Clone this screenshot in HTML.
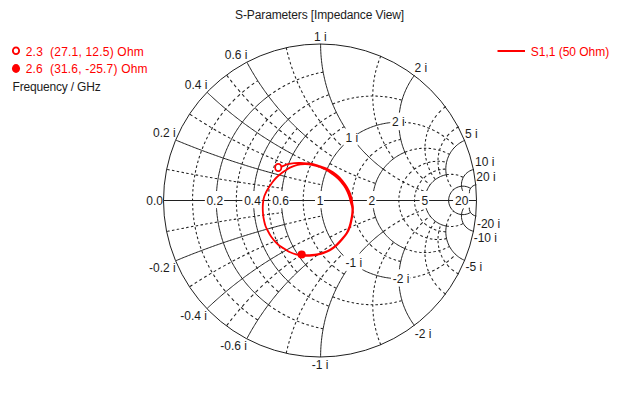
<!DOCTYPE html>
<html><head><meta charset="utf-8"><title>S-Parameters [Impedance View]</title>
<style>
html,body{margin:0;padding:0;background:#fff;}
body{width:640px;height:400px;overflow:hidden;}
svg{display:block;}
text{font-family:"Liberation Sans",sans-serif;font-size:12px;}
</style></head><body>
<svg width="640" height="400" viewBox="0 0 640 400">
<rect width="640" height="400" fill="#fff"/>
<g fill="none" stroke="#202020" stroke-width="1">
<path d="M268.43 304.73 L267.23 303.82 L266.04 302.89 L264.85 301.95 L263.68 300.99 L262.52 300.03 L261.37 299.04 L260.23 298.05 L259.11 297.04 L257.99 296.02 L256.89 294.98 L255.80 293.94 L254.72 292.88 L253.66 291.80 L252.60 290.72 L251.56 289.62 L250.54 288.52 L249.52 287.39 L248.52 286.26 L247.53 285.12 L246.56 283.96 L245.59 282.80 L244.65 281.62 L243.71 280.43 L242.79 279.23 L241.88 278.02 L240.99 276.80 L240.11 275.57 L239.25 274.33 L238.40 273.08 L237.56 271.82 L236.74 270.55 L235.94 269.27 L235.15 267.99 L234.37 266.69 L233.61 265.38 L232.86 264.07 L232.13 262.74 L231.42 261.41 L230.72 260.07 L230.04 258.72 L229.37 257.37 L228.71 256.00 L228.08 254.63 L227.46 253.25 L226.85 251.87 L226.26 250.48 L225.69 249.08 L225.14 247.67 L224.60 246.26 L224.07 244.84 L223.57 243.42 L223.08 241.99 L222.60 240.55 L222.14 239.11 L221.70 237.67 L221.28 236.21 L220.87 234.76 L220.48 233.30 L220.11 231.83 L219.76 230.36 L219.42 228.89 L219.09 227.41 L218.79 225.93 L218.50 224.45 L218.23 222.96 L217.98 221.47 L217.74 219.98 L217.53 218.48 L217.33 216.98 L217.14 215.48 L216.98 213.98 L216.83 212.48 L216.70 210.97 L216.58 209.46 L216.49 207.95 L216.41 206.44 L216.35 204.93 L216.30 203.42 L216.28 201.91 L216.27 200.40 L216.28 198.89 L216.30 197.38 L216.35 195.87 L216.41 194.36 L216.49 192.85 L216.58 191.34 L216.70 189.83 L216.83 188.32 L216.98 186.82 L217.14 185.32 L217.33 183.82 L217.53 182.32 L217.74 180.82 L217.98 179.33 L218.23 177.84 L218.50 176.35 L218.79 174.87 L219.09 173.39 L219.42 171.91 L219.76 170.44 L220.11 168.97 L220.48 167.50 L220.87 166.04 L221.28 164.59 L221.70 163.13 L222.14 161.69 L222.60 160.25 L223.08 158.81 L223.57 157.38 L224.07 155.96 L224.60 154.54 L225.14 153.13 L225.69 151.72 L226.26 150.32 L226.85 148.93 L227.46 147.55 L228.08 146.17 L228.71 144.80 L229.37 143.43 L230.04 142.08 L230.72 140.73 L231.42 139.39 L232.13 138.06 L232.86 136.73 L233.61 135.42 L234.37 134.11 L235.15 132.81 L235.94 131.53 L236.74 130.25 L237.56 128.98 L238.40 127.72 L239.25 126.47 L240.11 125.23 L240.99 124.00 L241.88 122.78 L242.79 121.57 L243.71 120.37 L244.65 119.18 L245.59 118.00 L246.56 116.84 L247.53 115.68 L248.52 114.54 L249.52 113.41 L250.54 112.28 L251.56 111.18 L252.60 110.08 L253.66 109.00 L254.72 107.92 L255.80 106.86 L256.89 105.82 L257.99 104.78 L259.11 103.76 L260.23 102.75 L261.37 101.76 L262.52 100.77 L263.68 99.81 L264.85 98.85 L266.04 97.91 L267.23 96.98 L268.43 96.07 M176.14 140.21 L177.53 140.78 L178.92 141.36 L180.31 141.93 L181.70 142.50 L183.09 143.07 L184.49 143.63 L185.88 144.19 L187.28 144.75 L188.68 145.31 L190.08 145.86 L191.48 146.41 L192.88 146.96 L194.28 147.50 L195.68 148.04 L197.09 148.58 L198.49 149.12 L199.90 149.65 L201.30 150.19 L202.71 150.71 L204.12 151.24 L205.53 151.76 L206.94 152.28 L208.35 152.80 L209.77 153.32 L211.18 153.83 L212.60 154.34 L214.01 154.85 L215.43 155.35 L216.85 155.85 L218.27 156.35 L219.69 156.85 L221.11 157.34 L222.53 157.83 L223.95 158.32 L225.38 158.81 L226.80 159.29 L228.23 159.77 L229.65 160.24 L231.08 160.72 L232.51 161.19 L233.94 161.66 L235.37 162.13 L236.80 162.59 L238.23 163.05 L239.66 163.51 L241.10 163.96 L242.53 164.41 L243.97 164.86 L245.40 165.31 L246.84 165.75 L248.28 166.20 L249.72 166.63 L251.15 167.07 L252.60 167.50 L254.04 167.93 L255.48 168.36 L256.92 168.78 L258.37 169.21 L259.81 169.63 L261.25 170.04 L262.70 170.46 L264.15 170.87 L265.60 171.27 L267.04 171.68 L268.49 172.08 L269.94 172.48 L271.39 172.88 L272.85 173.27 L274.30 173.66 L275.75 174.05 L277.20 174.44 L278.66 174.82 L280.11 175.20 L281.57 175.58 L283.03 175.95 L284.48 176.32 M176.14 260.59 L177.53 260.02 L178.92 259.44 L180.31 258.87 L181.70 258.30 L183.09 257.73 L184.49 257.17 L185.88 256.61 L187.28 256.05 L188.68 255.49 L190.08 254.94 L191.48 254.39 L192.88 253.84 L194.28 253.30 L195.68 252.76 L197.09 252.22 L198.49 251.68 L199.90 251.15 L201.30 250.61 L202.71 250.09 L204.12 249.56 L205.53 249.04 L206.94 248.52 L208.35 248.00 L209.77 247.48 L211.18 246.97 L212.60 246.46 L214.01 245.95 L215.43 245.45 L216.85 244.95 L218.27 244.45 L219.69 243.95 L221.11 243.46 L222.53 242.97 L223.95 242.48 L225.38 241.99 L226.80 241.51 L228.23 241.03 L229.65 240.56 L231.08 240.08 L232.51 239.61 L233.94 239.14 L235.37 238.67 L236.80 238.21 L238.23 237.75 L239.66 237.29 L241.10 236.84 L242.53 236.39 L243.97 235.94 L245.40 235.49 L246.84 235.05 L248.28 234.60 L249.72 234.17 L251.15 233.73 L252.60 233.30 L254.04 232.87 L255.48 232.44 L256.92 232.02 L258.37 231.59 L259.81 231.17 L261.25 230.76 L262.70 230.34 L264.15 229.93 L265.60 229.53 L267.04 229.12 L268.49 228.72 L269.94 228.32 L271.39 227.92 L272.85 227.53 L274.30 227.14 L275.75 226.75 L277.20 226.36 L278.66 225.98 L280.11 225.60 L281.57 225.22 L283.03 224.85 L284.48 224.48 M288.22 281.35 L287.14 280.30 L286.06 279.24 L285.01 278.16 L283.97 277.07 L282.94 275.97 L281.93 274.85 L280.93 273.71 L279.95 272.57 L278.98 271.41 L278.03 270.24 L277.10 269.05 L276.18 267.86 L275.27 266.65 L274.39 265.43 L273.52 264.19 L272.67 262.95 L271.83 261.69 L271.01 260.43 L270.21 259.15 L269.43 257.86 L268.66 256.56 L267.91 255.25 L267.18 253.93 L266.47 252.60 L265.77 251.26 L265.09 249.91 L264.43 248.56 L263.79 247.19 L263.17 245.82 L262.57 244.43 L261.98 243.04 L261.42 241.65 L260.87 240.24 L260.34 238.83 L259.83 237.41 L259.34 235.98 L258.87 234.55 L258.42 233.11 L257.99 231.66 L257.58 230.21 L257.18 228.75 L256.81 227.29 L256.46 225.82 L256.12 224.35 L255.81 222.88 L255.52 221.40 L255.24 219.91 L254.99 218.43 L254.76 216.93 L254.55 215.44 L254.35 213.94 L254.18 212.45 L254.03 210.95 L253.89 209.44 L253.78 207.94 L253.69 206.43 L253.62 204.92 L253.57 203.42 L253.54 201.91 L253.53 200.40 L253.54 198.89 L253.57 197.38 L253.62 195.88 L253.69 194.37 L253.78 192.86 L253.89 191.36 L254.03 189.85 L254.18 188.35 L254.35 186.86 L254.55 185.36 L254.76 183.87 L254.99 182.37 L255.24 180.89 L255.52 179.40 L255.81 177.92 L256.12 176.45 L256.46 174.98 L256.81 173.51 L257.18 172.05 L257.58 170.59 L257.99 169.14 L258.42 167.69 L258.87 166.25 L259.34 164.82 L259.83 163.39 L260.34 161.97 L260.87 160.56 L261.42 159.15 L261.98 157.76 L262.57 156.37 L263.17 154.98 L263.79 153.61 L264.43 152.24 L265.09 150.89 L265.77 149.54 L266.47 148.20 L267.18 146.87 L267.91 145.55 L268.66 144.24 L269.43 142.94 L270.21 141.65 L271.01 140.37 L271.83 139.11 L272.67 137.85 L273.52 136.61 L274.39 135.37 L275.27 134.15 L276.18 132.94 L277.10 131.75 L278.03 130.56 L278.98 129.39 L279.95 128.23 L280.93 127.09 L281.93 125.95 L282.94 124.83 L283.97 123.73 L285.01 122.64 L286.06 121.56 L287.14 120.50 L288.22 119.45 M207.27 92.47 L208.37 93.51 L209.47 94.55 L210.58 95.58 L211.69 96.61 L212.81 97.64 L213.93 98.66 L215.05 99.68 L216.18 100.69 L217.31 101.70 L218.44 102.70 L219.58 103.70 L220.72 104.70 L221.87 105.69 L223.02 106.67 L224.17 107.65 L225.33 108.63 L226.49 109.60 L227.66 110.57 L228.83 111.54 L230.00 112.50 L231.18 113.45 L232.36 114.40 L233.54 115.35 L234.73 116.29 L235.92 117.22 L237.11 118.15 L238.31 119.08 L239.51 120.00 L240.72 120.92 L241.93 121.83 L243.14 122.74 L244.36 123.65 L245.58 124.54 L246.80 125.44 L248.03 126.33 L249.26 127.21 L250.49 128.09 L251.73 128.97 L252.97 129.84 L254.21 130.70 L255.46 131.56 L256.71 132.42 L257.96 133.27 L259.22 134.12 L260.48 134.96 L261.74 135.79 L263.01 136.63 L264.28 137.45 L265.55 138.27 L266.83 139.09 L268.10 139.90 L269.39 140.71 L270.67 141.51 L271.96 142.31 L273.25 143.10 L274.55 143.89 L275.84 144.67 L277.15 145.45 L278.45 146.22 L279.76 146.98 L281.07 147.75 L282.38 148.50 L283.69 149.25 L285.01 150.00 L286.33 150.74 L287.66 151.48 L288.98 152.21 L290.31 152.93 L291.65 153.66 L292.98 154.37 M207.27 308.33 L208.37 307.29 L209.47 306.25 L210.58 305.22 L211.69 304.19 L212.81 303.16 L213.93 302.14 L215.05 301.12 L216.18 300.11 L217.31 299.10 L218.44 298.10 L219.58 297.10 L220.72 296.10 L221.87 295.11 L223.02 294.13 L224.17 293.15 L225.33 292.17 L226.49 291.20 L227.66 290.23 L228.83 289.26 L230.00 288.30 L231.18 287.35 L232.36 286.40 L233.54 285.45 L234.73 284.51 L235.92 283.58 L237.11 282.65 L238.31 281.72 L239.51 280.80 L240.72 279.88 L241.93 278.97 L243.14 278.06 L244.36 277.15 L245.58 276.26 L246.80 275.36 L248.03 274.47 L249.26 273.59 L250.49 272.71 L251.73 271.83 L252.97 270.96 L254.21 270.10 L255.46 269.24 L256.71 268.38 L257.96 267.53 L259.22 266.68 L260.48 265.84 L261.74 265.01 L263.01 264.17 L264.28 263.35 L265.55 262.53 L266.83 261.71 L268.10 260.90 L269.39 260.09 L270.67 259.29 L271.96 258.49 L273.25 257.70 L274.55 256.91 L275.84 256.13 L277.15 255.35 L278.45 254.58 L279.76 253.82 L281.07 253.05 L282.38 252.30 L283.69 251.55 L285.01 250.80 L286.33 250.06 L287.66 249.32 L288.98 248.59 L290.31 247.87 L291.65 247.14 L292.98 246.43 M305.59 264.72 L304.60 263.56 L303.62 262.39 L302.67 261.20 L301.73 259.99 L300.81 258.78 L299.91 257.55 L299.02 256.30 L298.16 255.04 L297.32 253.77 L296.50 252.49 L295.69 251.19 L294.91 249.88 L294.15 248.56 L293.41 247.22 L292.69 245.88 L291.99 244.52 L291.31 243.15 L290.66 241.78 L290.02 240.39 L289.41 238.99 L288.82 237.58 L288.25 236.17 L287.70 234.74 L287.18 233.31 L286.68 231.87 L286.20 230.42 L285.74 228.97 L285.31 227.50 L284.89 226.03 L284.51 224.56 L284.14 223.08 L283.80 221.59 L283.48 220.10 L283.18 218.60 L282.91 217.10 L282.66 215.60 L282.44 214.09 L282.24 212.57 L282.06 211.06 L281.90 209.54 L281.77 208.02 L281.67 206.50 L281.58 204.98 L281.52 203.45 L281.49 201.93 L281.48 200.40 L281.49 198.87 L281.52 197.35 L281.58 195.82 L281.67 194.30 L281.77 192.78 L281.90 191.26 L282.06 189.74 L282.24 188.23 L282.44 186.71 L282.66 185.20 L282.91 183.70 L283.18 182.20 L283.48 180.70 L283.80 179.21 L284.14 177.72 L284.51 176.24 L284.89 174.77 L285.31 173.30 L285.74 171.83 L286.20 170.38 L286.68 168.93 L287.18 167.49 L287.70 166.06 L288.25 164.63 L288.82 163.22 L289.41 161.81 L290.02 160.41 L290.66 159.02 L291.31 157.65 L291.99 156.28 L292.69 154.92 L293.41 153.58 L294.15 152.24 L294.91 150.92 L295.69 149.61 L296.50 148.31 L297.32 147.03 L298.16 145.76 L299.02 144.50 L299.91 143.25 L300.81 142.02 L301.73 140.81 L302.67 139.60 L303.62 138.41 L304.60 137.24 L305.59 136.08 M246.95 62.31 L247.66 63.64 L248.38 64.96 L249.11 66.27 L249.85 67.59 L250.59 68.90 L251.34 70.20 L252.09 71.50 L252.86 72.79 L253.63 74.09 L254.41 75.37 L255.20 76.65 L255.99 77.93 L256.79 79.20 L257.60 80.47 L258.42 81.74 L259.24 82.99 L260.07 84.25 L260.91 85.50 L261.75 86.74 L262.61 87.98 L263.47 89.22 L264.33 90.44 L265.21 91.67 L266.09 92.89 L266.97 94.10 L267.87 95.31 L268.77 96.52 L269.68 97.71 L270.60 98.91 L271.52 100.10 L272.45 101.28 L273.38 102.46 L274.33 103.63 L275.27 104.80 L276.23 105.96 L277.19 107.11 L278.16 108.26 L279.14 109.41 L280.12 110.55 L281.11 111.68 L282.11 112.81 L283.11 113.93 L284.12 115.04 L285.13 116.15 L286.15 117.26 L287.18 118.36 L288.22 119.45 L289.26 120.53 L290.30 121.61 L291.36 122.69 L292.42 123.76 L293.48 124.82 L294.55 125.87 L295.63 126.92 L296.71 127.97 L297.80 129.00 L298.90 130.03 L300.00 131.06 L301.11 132.08 L302.22 133.09 L303.34 134.09 L304.46 135.09 L305.59 136.08 M246.95 338.49 L247.66 337.16 L248.38 335.84 L249.11 334.53 L249.85 333.21 L250.59 331.90 L251.34 330.60 L252.09 329.30 L252.86 328.01 L253.63 326.71 L254.41 325.43 L255.20 324.15 L255.99 322.87 L256.79 321.60 L257.60 320.33 L258.42 319.06 L259.24 317.81 L260.07 316.55 L260.91 315.30 L261.75 314.06 L262.61 312.82 L263.47 311.58 L264.33 310.36 L265.21 309.13 L266.09 307.91 L266.97 306.70 L267.87 305.49 L268.77 304.28 L269.68 303.09 L270.60 301.89 L271.52 300.70 L272.45 299.52 L273.38 298.34 L274.33 297.17 L275.27 296.00 L276.23 294.84 L277.19 293.69 L278.16 292.54 L279.14 291.39 L280.12 290.25 L281.11 289.12 L282.11 287.99 L283.11 286.87 L284.12 285.76 L285.13 284.65 L286.15 283.54 L287.18 282.44 L288.22 281.35 L289.26 280.27 L290.30 279.19 L291.36 278.11 L292.42 277.04 L293.48 275.98 L294.55 274.93 L295.63 273.88 L296.71 272.83 L297.80 271.80 L298.90 270.77 L300.00 269.74 L301.11 268.72 L302.22 267.71 L303.34 266.71 L304.46 265.71 L305.59 264.72 M351.90 263.00 L350.70 262.08 L349.52 261.14 L348.35 260.18 L347.21 259.19 L346.08 258.18 L344.98 257.15 L343.89 256.10 L342.82 255.03 L341.78 253.93 L340.75 252.82 L339.75 251.69 L338.77 250.54 L337.82 249.37 L336.88 248.18 L335.97 246.97 L335.08 245.75 L334.22 244.51 L333.38 243.25 L332.56 241.98 L331.77 240.69 L331.01 239.39 L330.27 238.07 L329.55 236.74 L328.86 235.39 L328.20 234.04 L327.56 232.66 L326.95 231.28 L326.37 229.89 L325.81 228.48 L325.28 227.07 L324.78 225.64 L324.31 224.20 L323.86 222.76 L323.44 221.31 L323.05 219.85 L322.69 218.38 L322.36 216.90 L322.06 215.42 L321.78 213.94 L321.53 212.45 L321.31 210.95 L321.13 209.45 L320.96 207.95 L320.83 206.44 L320.73 204.93 L320.66 203.42 L320.61 201.91 L320.60 200.40 L320.61 198.89 L320.66 197.38 L320.73 195.87 L320.83 194.36 L320.96 192.85 L321.13 191.35 L321.31 189.85 L321.53 188.35 L321.78 186.86 L322.06 185.38 L322.36 183.90 L322.69 182.42 L323.05 180.95 L323.44 179.49 L323.86 178.04 L324.31 176.60 L324.78 175.16 L325.28 173.73 L325.81 172.32 L326.37 170.91 L326.95 169.52 L327.56 168.14 L328.20 166.76 L328.86 165.41 L329.55 164.06 L330.27 162.73 L331.01 161.41 L331.77 160.11 L332.56 158.82 L333.38 157.55 L334.22 156.29 L335.08 155.05 L335.97 153.83 L336.88 152.62 L337.82 151.43 L338.77 150.26 L339.75 149.11 L340.75 147.98 L341.78 146.87 L342.82 145.77 L343.89 144.70 L344.98 143.65 L346.08 142.62 L347.21 141.61 L348.35 140.62 L349.52 139.66 L350.70 138.72 L351.90 137.80 M320.60 43.90 L320.61 45.40 L320.63 46.91 L320.66 48.41 L320.72 49.91 L320.78 51.41 L320.86 52.91 L320.95 54.41 L321.06 55.91 L321.18 57.41 L321.32 58.91 L321.47 60.40 L321.64 61.90 L321.82 63.39 L322.01 64.88 L322.22 66.37 L322.44 67.86 L322.68 69.34 L322.93 70.82 L323.20 72.30 L323.48 73.78 L323.77 75.25 L324.08 76.72 L324.40 78.19 L324.74 79.66 L325.09 81.12 L325.45 82.58 L325.83 84.03 L326.23 85.48 L326.63 86.93 L327.05 88.37 L327.49 89.81 L327.93 91.25 L328.40 92.68 L328.87 94.10 L329.36 95.52 L329.86 96.94 L330.38 98.35 L330.91 99.76 L331.45 101.16 L332.01 102.56 L332.58 103.95 L333.16 105.33 L333.76 106.71 L334.37 108.09 L334.99 109.45 L335.63 110.82 L336.28 112.17 L336.94 113.52 L337.61 114.86 L338.30 116.20 L339.00 117.53 L339.72 118.85 L340.44 120.17 L341.18 121.48 L341.93 122.78 L342.70 124.07 L343.47 125.36 L344.26 126.64 L345.06 127.91 L345.87 129.18 L346.70 130.43 L347.54 131.68 L348.39 132.92 L349.25 134.15 L350.12 135.38 L351.00 136.59 L351.90 137.80 M320.60 356.90 L320.61 355.40 L320.63 353.89 L320.66 352.39 L320.72 350.89 L320.78 349.39 L320.86 347.89 L320.95 346.39 L321.06 344.89 L321.18 343.39 L321.32 341.89 L321.47 340.40 L321.64 338.90 L321.82 337.41 L322.01 335.92 L322.22 334.43 L322.44 332.94 L322.68 331.46 L322.93 329.98 L323.20 328.50 L323.48 327.02 L323.77 325.55 L324.08 324.08 L324.40 322.61 L324.74 321.14 L325.09 319.68 L325.45 318.22 L325.83 316.77 L326.23 315.32 L326.63 313.87 L327.05 312.43 L327.49 310.99 L327.93 309.55 L328.40 308.12 L328.87 306.70 L329.36 305.28 L329.86 303.86 L330.38 302.45 L330.91 301.04 L331.45 299.64 L332.01 298.24 L332.58 296.85 L333.16 295.47 L333.76 294.09 L334.37 292.71 L334.99 291.35 L335.63 289.98 L336.28 288.63 L336.94 287.28 L337.61 285.94 L338.30 284.60 L339.00 283.27 L339.72 281.95 L340.44 280.63 L341.18 279.32 L341.93 278.02 L342.70 276.73 L343.47 275.44 L344.26 274.16 L345.06 272.89 L345.87 271.62 L346.70 270.37 L347.54 269.12 L348.39 267.88 L349.25 266.65 L350.12 265.42 L351.00 264.21 L351.90 263.00 M351.90 137.80 L353.13 136.90 L354.38 136.02 L355.64 135.16 L356.92 134.33 L358.22 133.53 L359.53 132.75 L360.86 131.99 L362.20 131.27 L363.55 130.56 L364.92 129.89 L366.30 129.24 L367.69 128.62 L369.10 128.03 L370.52 127.46 L371.94 126.92 L373.38 126.41 L374.83 125.93 L376.29 125.47 L377.75 125.05 L379.23 124.65 L380.71 124.28 L382.19 123.94 L383.69 123.63 L385.19 123.35 L386.69 123.10 L388.20 122.88 L389.72 122.68 L391.23 122.52 L392.75 122.39 L394.27 122.28 L395.80 122.21 L397.32 122.16 L398.85 122.15 M351.90 263.00 L353.13 263.90 L354.38 264.78 L355.64 265.64 L356.92 266.47 L358.22 267.27 L359.53 268.05 L360.86 268.81 L362.20 269.53 L363.55 270.24 L364.92 270.91 L366.30 271.56 L367.69 272.18 L369.10 272.77 L370.52 273.34 L371.94 273.88 L373.38 274.39 L374.83 274.87 L376.29 275.33 L377.75 275.75 L379.23 276.15 L380.71 276.52 L382.19 276.86 L383.69 277.17 L385.19 277.45 L386.69 277.70 L388.20 277.92 L389.72 278.12 L391.23 278.28 L392.75 278.41 L394.27 278.52 L395.80 278.59 L397.32 278.64 L398.85 278.65 M351.90 137.80 L352.82 139.02 L353.76 140.23 L354.71 141.43 L355.67 142.63 L356.64 143.81 L357.63 144.99 L358.62 146.15 L359.63 147.30 L360.64 148.45 L361.67 149.58 L362.71 150.71 L363.76 151.82 L364.83 152.93 L365.90 154.02 L366.98 155.10 L368.07 156.17 L369.18 157.24 L370.29 158.29 L371.42 159.33 L372.55 160.36 L373.70 161.37 L374.85 162.38 L376.01 163.37 L377.19 164.36 L378.37 165.33 L379.57 166.29 L380.77 167.24 L381.98 168.18 L383.20 169.10 M351.90 263.00 L352.82 261.78 L353.76 260.57 L354.71 259.37 L355.67 258.17 L356.64 256.99 L357.63 255.81 L358.62 254.65 L359.63 253.50 L360.64 252.35 L361.67 251.22 L362.71 250.09 L363.76 248.98 L364.83 247.87 L365.90 246.78 L366.98 245.70 L368.07 244.63 L369.18 243.56 L370.29 242.51 L371.42 241.47 L372.55 240.44 L373.70 239.43 L374.85 238.42 L376.01 237.43 L377.19 236.44 L378.37 235.47 L379.57 234.51 L380.77 233.56 L381.98 232.62 L383.20 231.70 M404.87 248.55 L403.46 247.94 L402.07 247.29 L400.71 246.60 L399.36 245.87 L398.03 245.10 L396.73 244.29 L395.45 243.44 L394.20 242.55 L392.97 241.63 L391.78 240.67 L390.61 239.68 L389.47 238.66 L388.36 237.60 L387.28 236.50 L386.23 235.38 L385.22 234.23 L384.25 233.05 L383.30 231.84 L382.40 230.60 L381.53 229.34 L380.70 228.05 L379.90 226.74 L379.15 225.40 L378.43 224.04 L377.76 222.67 L377.12 221.27 L376.53 219.86 L375.98 218.43 L375.47 216.98 L375.01 215.52 L374.58 214.04 L374.20 212.56 L373.87 211.06 L373.58 209.55 L373.33 208.04 L373.13 206.52 L372.97 205.00 L372.86 203.47 L372.79 201.93 L372.77 200.40 L372.79 198.87 L372.86 197.33 L372.97 195.80 L373.13 194.28 L373.33 192.76 L373.58 191.25 L373.87 189.74 L374.20 188.24 L374.58 186.76 L375.01 185.28 L375.47 183.82 L375.98 182.37 L376.53 180.94 L377.12 179.53 L377.76 178.13 L378.43 176.76 L379.15 175.40 L379.90 174.06 L380.70 172.75 L381.53 171.46 L382.40 170.20 L383.30 168.96 L384.25 167.75 L385.22 166.57 L386.23 165.42 L387.28 164.30 L388.36 163.20 L389.47 162.14 L390.61 161.12 L391.78 160.13 L392.97 159.17 L394.20 158.25 L395.45 157.36 L396.73 156.51 L398.03 155.70 L399.36 154.93 L400.71 154.20 L402.07 153.51 L403.46 152.86 L404.87 152.25 M414.50 75.20 L413.61 76.41 L412.74 77.64 L411.90 78.89 L411.08 80.15 L410.28 81.43 L409.51 82.72 L408.77 84.02 L408.05 85.35 L407.35 86.68 L406.68 88.03 L406.04 89.39 L405.42 90.76 L404.83 92.14 L404.27 93.54 L403.73 94.94 L403.22 96.36 L402.74 97.79 L402.29 99.22 L401.86 100.66 L401.46 102.11 L401.09 103.57 L400.74 105.04 L400.43 106.51 L400.14 107.98 L399.88 109.47 L399.66 110.95 L399.45 112.44 L399.28 113.94 L399.14 115.44 L399.02 116.94 L398.94 118.44 L398.88 119.94 L398.85 121.45 L398.85 122.95 L398.88 124.46 L398.94 125.96 L399.03 127.46 L399.15 128.96 L399.29 130.46 L399.47 131.95 L399.67 133.44 L399.90 134.93 L400.16 136.41 L400.45 137.89 L400.77 139.36 L401.11 140.82 L401.48 142.28 L401.88 143.73 L402.31 145.17 L402.77 146.61 L403.25 148.03 L403.77 149.45 L404.30 150.85 L404.87 152.25 M414.50 325.60 L413.61 324.39 L412.74 323.16 L411.90 321.91 L411.08 320.65 L410.28 319.37 L409.51 318.08 L408.77 316.78 L408.05 315.45 L407.35 314.12 L406.68 312.77 L406.04 311.41 L405.42 310.04 L404.83 308.66 L404.27 307.26 L403.73 305.86 L403.22 304.44 L402.74 303.01 L402.29 301.58 L401.86 300.14 L401.46 298.69 L401.09 297.23 L400.74 295.76 L400.43 294.29 L400.14 292.82 L399.88 291.33 L399.66 289.85 L399.45 288.36 L399.28 286.86 L399.14 285.36 L399.02 283.86 L398.94 282.36 L398.88 280.86 L398.85 279.35 L398.85 277.85 L398.88 276.34 L398.94 274.84 L399.03 273.34 L399.15 271.84 L399.29 270.34 L399.47 268.85 L399.67 267.36 L399.90 265.87 L400.16 264.39 L400.45 262.91 L400.77 261.44 L401.11 259.98 L401.48 258.52 L401.88 257.07 L402.31 255.63 L402.77 254.19 L403.25 252.77 L403.77 251.35 L404.30 249.95 L404.87 248.55 M446.31 226.06 L444.84 225.74 L443.38 225.34 L441.95 224.86 L440.55 224.29 L439.19 223.65 L437.86 222.92 L436.58 222.12 L435.35 221.25 L434.17 220.31 L433.04 219.30 L431.98 218.23 L430.98 217.10 L430.05 215.91 L429.18 214.67 L428.39 213.38 L427.68 212.05 L427.05 210.68 L426.49 209.28 L426.02 207.85 L425.63 206.39 L425.33 204.91 L425.11 203.41 L424.98 201.91 L424.93 200.40 L424.98 198.89 L425.11 197.39 L425.33 195.89 L425.63 194.41 L426.02 192.95 L426.49 191.52 L427.05 190.12 L427.68 188.75 L428.39 187.42 L429.18 186.13 L430.05 184.89 L430.98 183.70 L431.98 182.57 L433.04 181.50 L434.17 180.49 L435.35 179.55 L436.58 178.68 L437.86 177.88 L439.19 177.15 L440.55 176.51 L441.95 175.94 L443.38 175.46 L444.84 175.06 L446.31 174.74 M465.06 140.21 L463.68 140.82 L462.32 141.51 L461.00 142.26 L459.72 143.07 L458.48 143.94 L457.28 144.87 L456.13 145.86 L455.03 146.91 L453.98 148.00 L452.98 149.15 L452.05 150.34 L451.17 151.57 L450.35 152.85 L449.59 154.17 L448.90 155.52 L448.28 156.90 L447.72 158.31 L447.23 159.75 L446.81 161.21 L446.46 162.68 L446.19 164.17 L445.99 165.68 L445.86 167.19 L445.80 168.71 L445.82 170.22 L445.91 171.74 L446.08 173.25 L446.31 174.74 M465.06 260.59 L463.68 259.98 L462.32 259.29 L461.00 258.54 L459.72 257.73 L458.48 256.86 L457.28 255.93 L456.13 254.94 L455.03 253.89 L453.98 252.80 L452.98 251.65 L452.05 250.46 L451.17 249.23 L450.35 247.95 L449.59 246.63 L448.90 245.28 L448.28 243.90 L447.72 242.49 L447.23 241.05 L446.81 239.59 L446.46 238.12 L446.19 236.63 L445.99 235.12 L445.86 233.61 L445.80 232.09 L445.82 230.58 L445.91 229.06 L446.08 227.55 L446.31 226.06 M461.52 214.56 L459.93 214.32 L458.37 213.90 L456.87 213.30 L455.45 212.53 L454.12 211.62 L452.91 210.55 L451.82 209.36 L450.88 208.05 L450.09 206.64 L449.46 205.15 L449.01 203.60 L448.74 202.01 L448.65 200.40 L448.74 198.79 L449.01 197.20 L449.46 195.65 L450.09 194.16 L450.88 192.75 L451.82 191.44 L452.91 190.25 L454.12 189.18 L455.45 188.27 L456.87 187.50 L458.37 186.90 L459.93 186.48 L461.52 186.24 M474.00 169.41 L472.52 169.79 L471.08 170.30 L469.70 170.96 L468.39 171.75 L467.16 172.66 L466.03 173.69 L465.00 174.82 L464.09 176.05 L463.30 177.36 L462.65 178.75 L462.13 180.19 L461.76 181.67 L461.53 183.18 L461.45 184.71 L461.52 186.24 M474.00 231.39 L472.52 231.01 L471.08 230.50 L469.70 229.84 L468.39 229.05 L467.16 228.14 L466.03 227.11 L465.00 225.98 L464.09 224.75 L463.30 223.44 L462.65 222.05 L462.13 220.61 L461.76 219.13 L461.53 217.62 L461.45 216.09 L461.52 214.56 M461.52 186.24 L463.08 186.17 L464.65 186.28 L466.19 186.56 L467.68 187.01 L469.13 187.62 L470.49 188.38 M461.52 214.56 L463.08 214.63 L464.65 214.52 L466.19 214.24 L467.68 213.79 L469.13 213.18 L470.49 212.42 M461.52 186.24 L461.74 187.75 L462.11 189.24 L462.62 190.68 L463.26 192.06 L464.05 193.38 L464.95 194.61 M461.52 214.56 L461.74 213.05 L462.11 211.56 L462.62 210.12 L463.26 208.74 L464.05 207.42 L464.95 206.19 M469.28 207.84 L467.69 207.59 L466.18 207.00 L464.84 206.09 L463.73 204.92 L462.89 203.54 L462.37 202.01 L462.20 200.40 L462.37 198.79 L462.89 197.26 L463.73 195.88 L464.84 194.71 L466.18 193.80 L467.69 193.21 L469.28 192.96 M476.32 184.79 L474.66 185.14 L473.12 185.84 L471.76 186.86 L470.65 188.14 L469.85 189.63 L469.39 191.26 L469.28 192.96 M476.32 216.01 L474.66 215.66 L473.12 214.96 L471.76 213.94 L470.65 212.66 L469.85 211.17 L469.39 209.54 L469.28 207.84"/>
<path stroke-width="1.05" d="M257.80 320.02 L256.53 319.19 L255.35 318.40 M253.05 316.82 L252.79 316.64 L251.56 315.76 L250.60 315.06 M248.30 313.33 L247.92 313.05 L246.73 312.12 L245.85 311.41 M243.55 309.53 L243.22 309.25 L242.07 308.27 L241.10 307.44 M238.80 305.38 L238.67 305.26 L237.57 304.24 L236.47 303.20 L236.35 303.08 M234.05 300.83 L233.24 300.01 L232.19 298.92 L231.67 298.38 M229.53 296.08 L229.10 295.60 L228.10 294.48 L227.36 293.63 M225.40 291.33 L225.15 291.03 L224.20 289.86 L223.41 288.88 M221.63 286.58 L221.40 286.28 L220.50 285.07 L219.80 284.13 M218.16 281.83 L217.86 281.39 L217.00 280.14 L216.49 279.38 M214.99 277.08 L214.52 276.35 L213.72 275.06 L213.45 274.63 M212.08 272.33 L211.40 271.17 L210.67 269.88 M209.41 267.58 L209.21 267.20 L208.51 265.86 L208.13 265.13 M206.98 262.83 L206.49 261.80 L205.84 260.43 L205.82 260.38 M204.77 258.08 L204.59 257.68 L203.99 256.29 L203.71 255.63 M202.77 253.33 L202.28 252.09 L201.81 250.88 M200.96 248.58 L200.70 247.84 L200.20 246.42 L200.10 246.13 M199.35 243.83 L199.25 243.55 L198.80 242.10 L198.59 241.38 M197.91 239.08 L197.54 237.75 L197.25 236.63 M196.66 234.33 L196.42 233.35 L196.08 231.88 L196.08 231.88 M195.58 229.58 L195.44 228.93 L195.15 227.44 L195.09 227.13 M194.67 224.83 L194.61 224.47 L194.36 222.98 L194.26 222.38 M193.92 220.08 L193.91 219.99 L193.71 218.49 L193.60 217.63 M193.34 215.33 L193.20 213.98 L193.10 212.88 M192.92 210.58 L192.84 209.46 L192.77 208.13 M192.66 205.83 L192.63 204.93 L192.59 203.42 L192.59 203.38 M192.56 201.08 L192.55 200.40 L192.56 198.89 L192.57 198.63 M192.61 196.33 L192.63 195.87 L192.68 194.36 L192.71 193.88 M192.83 191.58 L192.84 191.34 L192.95 189.83 L193.00 189.13 M193.20 186.83 L193.20 186.82 L193.36 185.31 L193.46 184.38 M193.74 182.08 L193.91 180.81 L194.08 179.63 M194.44 177.33 L194.61 176.33 L194.86 174.88 M195.30 172.58 L195.44 171.87 L195.75 170.40 L195.81 170.13 M196.33 167.83 L196.42 167.45 L196.78 165.98 L196.93 165.38 M197.54 163.08 L197.54 163.05 L197.95 161.60 L198.23 160.63 M198.92 158.33 L199.25 157.25 L199.70 155.88 M200.48 153.58 L200.70 152.96 L201.21 151.53 L201.36 151.13 M202.23 148.83 L202.28 148.71 L202.83 147.30 L203.21 146.38 M204.18 144.08 L204.59 143.12 L205.21 141.74 L205.26 141.63 M206.33 139.33 L206.49 139.00 L207.15 137.64 L207.53 136.88 M208.70 134.58 L209.21 133.60 L209.93 132.27 L210.01 132.13 M211.29 129.83 L211.40 129.63 L212.16 128.33 L212.73 127.38 M214.13 125.08 L214.52 124.45 L215.33 123.18 L215.70 122.63 M217.23 120.33 L217.86 119.41 L218.72 118.17 L218.93 117.88 M220.61 115.58 L221.40 114.52 L222.32 113.31 L222.47 113.13 M224.29 110.83 L225.15 109.77 L226.12 108.61 L226.32 108.38 M228.32 106.08 L229.10 105.20 L230.12 104.08 L230.54 103.63 M232.72 101.33 L233.24 100.79 L234.31 99.72 L235.15 98.89 M237.45 96.68 L237.57 96.56 L238.67 95.54 L239.79 94.52 L239.90 94.43 M242.20 92.42 L243.22 91.55 L244.38 90.58 L244.65 90.36 M246.95 88.52 L247.92 87.75 L249.13 86.84 L249.40 86.63 M251.70 84.94 L252.79 84.16 L254.03 83.30 L254.15 83.22 M256.45 81.67 L256.53 81.61 L257.80 80.78 M167.20 169.41 L168.68 169.71 L169.65 169.90 M171.95 170.36 L173.14 170.60 L174.40 170.85 M176.70 171.30 L177.60 171.47 L179.08 171.76 L179.15 171.78 M181.45 172.22 L182.06 172.34 L183.54 172.62 L183.90 172.69 M186.20 173.13 L186.52 173.19 L188.01 173.47 L188.65 173.59 M190.95 174.02 L190.98 174.02 L192.47 174.30 L193.40 174.47 M195.70 174.89 L196.94 175.12 L198.15 175.34 M200.45 175.75 L201.41 175.93 L202.90 176.19 M205.20 176.60 L205.88 176.72 L207.37 176.98 L207.65 177.03 M209.95 177.43 L210.36 177.50 L211.85 177.76 L212.40 177.85 M214.70 178.24 L214.83 178.27 L216.33 178.52 L217.15 178.66 M219.45 179.05 L220.81 179.27 L221.90 179.45 M224.20 179.83 L225.29 180.01 L226.65 180.23 M228.95 180.60 L229.77 180.73 L231.27 180.97 L231.40 180.99 M233.70 181.36 L234.26 181.44 L235.76 181.68 L236.15 181.74 M238.45 182.10 L238.75 182.14 L240.25 182.37 L240.90 182.47 M243.20 182.82 L243.24 182.83 L244.74 183.05 L245.65 183.19 M247.95 183.53 L249.23 183.72 L250.40 183.89 M252.70 184.23 L253.73 184.38 L255.15 184.58 M257.45 184.91 L258.22 185.02 L259.72 185.23 L259.90 185.25 M262.20 185.57 L262.72 185.65 L264.22 185.85 L264.65 185.91 M266.95 186.23 L267.22 186.26 L268.72 186.47 L269.40 186.56 M271.70 186.86 L271.72 186.87 L273.23 187.06 L274.15 187.18 M276.45 187.48 L277.73 187.65 L278.90 187.80 M281.20 188.09 L282.24 188.22 M167.20 231.39 L168.68 231.09 L169.65 230.90 M171.95 230.44 L173.14 230.20 L174.40 229.95 M176.70 229.50 L177.60 229.33 L179.08 229.04 L179.15 229.02 M181.45 228.58 L182.06 228.46 L183.54 228.18 L183.90 228.11 M186.20 227.67 L186.52 227.61 L188.01 227.33 L188.65 227.21 M190.95 226.78 L190.98 226.78 L192.47 226.50 L193.40 226.33 M195.70 225.91 L196.94 225.68 L198.15 225.46 M200.45 225.05 L201.41 224.87 L202.90 224.61 M205.20 224.20 L205.88 224.08 L207.37 223.82 L207.65 223.77 M209.95 223.37 L210.36 223.30 L211.85 223.04 L212.40 222.95 M214.70 222.56 L214.83 222.53 L216.33 222.28 L217.15 222.14 M219.45 221.75 L220.81 221.53 L221.90 221.35 M224.20 220.97 L225.29 220.79 L226.65 220.57 M228.95 220.20 L229.77 220.07 L231.27 219.83 L231.40 219.81 M233.70 219.44 L234.26 219.36 L235.76 219.12 L236.15 219.06 M238.45 218.70 L238.75 218.66 L240.25 218.43 L240.90 218.33 M243.20 217.98 L243.24 217.97 L244.74 217.75 L245.65 217.61 M247.95 217.27 L249.23 217.08 L250.40 216.91 M252.70 216.57 L253.73 216.42 L255.15 216.22 M257.45 215.89 L258.22 215.78 L259.72 215.57 L259.90 215.55 M262.20 215.23 L262.72 215.15 L264.22 214.95 L264.65 214.89 M266.95 214.57 L267.22 214.54 L268.72 214.33 L269.40 214.24 M271.70 213.94 L271.72 213.93 L273.23 213.74 L274.15 213.62 M276.45 213.32 L277.73 213.15 L278.90 213.00 M281.20 212.71 L282.24 212.58 M278.61 292.01 L277.47 291.02 L276.34 290.02 L276.16 289.86 M273.86 287.73 L273.03 286.94 L271.95 285.88 L271.41 285.34 M269.18 283.04 L268.80 282.64 L267.77 281.53 L266.93 280.59 M264.93 278.29 L264.79 278.13 L263.82 276.97 L262.90 275.84 M261.10 273.54 L261.01 273.42 L260.10 272.22 L259.28 271.09 M257.65 268.79 L257.47 268.53 L256.62 267.28 L256.00 266.34 M254.53 264.04 L254.18 263.47 L253.40 262.18 L253.05 261.59 M251.72 259.29 L251.15 258.26 L250.43 256.93 L250.38 256.84 M249.20 254.54 L249.05 254.25 L248.38 252.89 L248.00 252.09 M246.93 249.79 L246.48 248.78 L245.88 247.40 L245.86 247.34 M244.92 245.04 L244.74 244.61 L244.20 243.20 L243.97 242.59 M243.13 240.29 L242.67 238.94 L242.30 237.84 M241.58 235.54 L241.30 234.62 L240.88 233.18 L240.86 233.09 M240.23 230.79 L240.09 230.26 L239.73 228.80 L239.62 228.34 M239.10 226.04 L239.05 225.86 L238.74 224.38 L238.59 223.59 M238.16 221.29 L237.93 219.93 L237.75 218.84 M237.42 216.54 L237.28 215.45 L237.11 214.09 M236.87 211.79 L236.79 210.95 L236.67 209.44 L236.66 209.34 M236.52 207.04 L236.48 206.43 L236.42 204.93 L236.41 204.59 M236.35 202.29 L236.34 201.91 L236.33 200.40 L236.33 199.84 M236.37 197.54 L236.37 197.38 L236.42 195.87 L236.45 195.09 M236.57 192.79 L236.67 191.36 L236.75 190.34 M236.97 188.04 L237.10 186.85 L237.25 185.59 M237.55 183.29 L237.69 182.36 L237.93 180.87 L237.93 180.84 M238.33 178.54 L238.45 177.90 L238.74 176.42 L238.81 176.09 M239.31 173.79 L239.38 173.47 L239.73 172.00 L239.89 171.34 M240.49 169.04 L240.88 167.62 L241.18 166.59 M241.87 164.29 L242.19 163.29 L242.67 161.86 L242.67 161.84 M243.48 159.54 L243.67 159.01 L244.20 157.60 L244.39 157.09 M245.30 154.79 L245.30 154.79 L245.88 153.40 L246.34 152.34 M247.37 150.04 L247.73 149.27 L248.38 147.91 L248.53 147.59 M249.68 145.29 L249.73 145.21 L250.43 143.87 L250.98 142.84 M252.27 140.54 L252.63 139.91 L253.40 138.62 L253.71 138.09 M255.14 135.79 L255.79 134.77 L256.62 133.52 L256.74 133.34 M258.32 131.04 L258.33 131.03 L259.21 129.80 L260.09 128.59 M261.84 126.29 L261.93 126.18 L262.87 125.00 L263.81 123.84 M265.75 121.54 L265.77 121.53 L266.76 120.39 L267.77 119.27 L267.94 119.09 M270.10 116.79 L270.89 115.99 L271.95 114.92 L272.52 114.36 M274.82 112.16 L275.22 111.79 L276.34 110.78 L277.27 109.95 M189.94 114.25 L191.21 115.09 L192.39 115.86 M194.69 117.35 L195.03 117.56 L196.30 118.38 L197.14 118.92 M199.44 120.37 L200.15 120.81 L201.44 121.62 L201.89 121.90 M204.19 123.32 L205.31 124.00 L206.60 124.79 L206.64 124.82 M208.94 126.20 L209.20 126.36 L210.50 127.13 L211.39 127.66 M213.69 129.01 L214.43 129.44 L215.74 130.20 L216.14 130.44 M218.44 131.76 L219.68 132.47 L220.89 133.15 M223.19 134.44 L223.65 134.69 L224.98 135.43 L225.64 135.80 M227.94 137.05 L228.97 137.61 L230.31 138.33 L230.39 138.38 M232.69 139.60 L232.98 139.76 L234.32 140.46 L235.14 140.89 M237.44 142.09 L238.36 142.56 L239.71 143.26 L239.89 143.35 M242.19 144.52 L242.41 144.63 L243.77 145.31 L244.64 145.74 M246.94 146.88 L247.85 147.33 L249.21 147.99 L249.39 148.08 M251.69 149.19 L251.94 149.31 L253.31 149.96 L254.14 150.35 M256.44 151.43 L257.43 151.89 L258.81 152.53 L258.89 152.57 M261.19 153.62 L261.56 153.79 L262.95 154.42 L263.64 154.73 M265.94 155.75 L267.10 156.27 L268.39 156.83 M270.69 157.83 L271.28 158.08 L272.67 158.68 L273.14 158.88 M275.44 159.85 L275.46 159.86 L276.86 160.44 L277.89 160.87 M280.19 161.81 L281.07 162.17 L282.48 162.74 L282.64 162.80 M284.94 163.72 L285.30 163.86 L286.71 164.41 L287.39 164.68 M189.94 286.55 L191.21 285.71 L192.39 284.94 M194.69 283.45 L195.03 283.24 L196.30 282.42 L197.14 281.88 M199.44 280.43 L200.15 279.99 L201.44 279.18 L201.89 278.90 M204.19 277.48 L205.31 276.80 L206.60 276.01 L206.64 275.98 M208.94 274.60 L209.20 274.44 L210.50 273.67 L211.39 273.14 M213.69 271.79 L214.43 271.36 L215.74 270.60 L216.14 270.36 M218.44 269.04 L219.68 268.33 L220.89 267.65 M223.19 266.36 L223.65 266.11 L224.98 265.37 L225.64 265.00 M227.94 263.75 L228.97 263.19 L230.31 262.47 L230.39 262.42 M232.69 261.20 L232.98 261.04 L234.32 260.34 L235.14 259.91 M237.44 258.71 L238.36 258.24 L239.71 257.54 L239.89 257.45 M242.19 256.28 L242.41 256.17 L243.77 255.49 L244.64 255.06 M246.94 253.92 L247.85 253.47 L249.21 252.81 L249.39 252.72 M251.69 251.61 L251.94 251.49 L253.31 250.84 L254.14 250.45 M256.44 249.37 L257.43 248.91 L258.81 248.27 L258.89 248.23 M261.19 247.18 L261.56 247.01 L262.95 246.38 L263.64 246.07 M265.94 245.05 L267.10 244.53 L268.39 243.97 M270.69 242.97 L271.28 242.72 L272.67 242.12 L273.14 241.92 M275.44 240.95 L275.46 240.94 L276.86 240.36 L277.89 239.93 M280.19 238.99 L281.07 238.63 L282.48 238.06 L282.64 238.00 M284.94 237.08 L285.30 236.94 L286.71 236.39 L287.39 236.12 M297.21 272.35 L296.17 271.24 L295.14 270.11 L294.96 269.90 M292.96 267.60 L292.16 266.64 L291.20 265.45 L290.96 265.15 M289.19 262.85 L288.42 261.81 L287.53 260.57 L287.42 260.40 M285.84 258.10 L285.81 258.05 L284.97 256.77 L284.27 255.65 M282.87 253.35 L282.58 252.86 L281.82 251.54 L281.47 250.90 M280.24 248.60 L279.67 247.49 L279.00 246.15 M277.92 243.85 L277.69 243.36 L277.07 241.97 L276.83 241.40 M275.88 239.10 L275.34 237.73 L274.94 236.65 M274.12 234.35 L273.79 233.41 L273.32 231.96 L273.30 231.90 M272.61 229.60 L272.44 229.04 L272.03 227.57 L271.92 227.15 M271.34 224.85 L271.28 224.61 L270.94 223.12 L270.78 222.40 M270.31 220.10 L270.04 218.63 L269.87 217.65 M269.51 215.35 L269.34 214.10 L269.19 212.90 M268.94 210.60 L268.84 209.55 L268.72 208.15 M268.58 205.85 L268.53 204.98 L268.48 203.45 L268.48 203.40 M268.44 201.10 L268.43 200.40 L268.44 198.87 L268.45 198.65 M268.51 196.35 L268.53 195.82 L268.61 194.30 L268.64 193.90 M268.81 191.60 L268.84 191.25 L268.98 189.73 L269.04 189.15 M269.32 186.85 L269.34 186.70 L269.55 185.19 L269.67 184.40 M270.05 182.10 L270.32 180.67 L270.52 179.65 M271.01 177.35 L271.28 176.19 L271.60 174.90 M272.21 172.60 L272.44 171.76 L272.87 170.30 L272.91 170.15 M273.64 167.85 L273.79 167.39 L274.29 165.94 L274.48 165.40 M275.33 163.10 L275.34 163.07 L275.90 161.65 L276.30 160.65 M277.28 158.35 L277.69 157.44 L278.33 156.05 L278.40 155.90 M279.52 153.60 L279.67 153.31 L280.37 151.95 L280.79 151.15 M282.06 148.85 L282.58 147.94 L283.36 146.63 L283.49 146.40 M284.93 144.10 L284.97 144.03 L285.81 142.75 L286.55 141.65 M288.16 139.35 L288.42 138.99 L289.33 137.76 L289.98 136.90 M291.80 134.60 L292.16 134.16 L293.13 132.99 L293.85 132.15 M295.90 129.85 L296.17 129.56 L297.21 128.45 M226.70 75.20 L227.60 76.40 L228.51 77.59 L228.56 77.65 M230.33 79.95 L230.35 79.97 L231.28 81.15 L232.21 82.33 L232.27 82.40 M234.12 84.70 L235.04 85.84 L236.00 87.00 L236.13 87.15 M238.05 89.45 L238.90 90.45 L239.87 91.59 L240.14 91.90 M242.15 94.20 L242.84 94.98 L243.84 96.10 L244.33 96.65 M246.42 98.95 L246.86 99.44 L247.88 100.54 L248.69 101.40 M250.86 103.70 L250.98 103.82 L252.02 104.90 L253.06 105.98 L253.23 106.15 M255.50 108.45 L256.23 109.18 L257.30 110.24 L257.95 110.88 M260.25 113.11 L260.53 113.38 L261.62 114.42 L262.70 115.44 M265.00 117.58 L266.02 118.51 L267.13 119.52 L267.45 119.81 M269.75 121.87 L270.49 122.52 L271.62 123.51 L272.20 124.01 M274.50 125.98 L275.04 126.44 L276.19 127.41 L276.95 128.04 M279.25 129.94 L279.67 130.28 L280.84 131.22 L281.70 131.92 M284.00 133.74 L284.37 134.02 L285.55 134.94 L286.45 135.64 M288.75 137.39 L289.13 137.68 L290.34 138.58 L291.20 139.21 M293.50 140.90 L293.97 141.24 L295.19 142.11 L295.95 142.65 M298.25 144.27 L298.88 144.71 M226.70 325.60 L227.60 324.40 L228.51 323.21 L228.56 323.15 M230.33 320.85 L230.35 320.83 L231.28 319.65 L232.21 318.47 L232.27 318.40 M234.12 316.10 L235.04 314.96 L236.00 313.80 L236.13 313.65 M238.05 311.35 L238.90 310.35 L239.87 309.21 L240.14 308.90 M242.15 306.60 L242.84 305.82 L243.84 304.70 L244.33 304.15 M246.42 301.85 L246.86 301.36 L247.88 300.26 L248.69 299.40 M250.86 297.10 L250.98 296.98 L252.02 295.90 L253.06 294.82 L253.23 294.65 M255.50 292.35 L256.23 291.62 L257.30 290.56 L257.95 289.92 M260.25 287.69 L260.53 287.42 L261.62 286.38 L262.70 285.36 M265.00 283.22 L266.02 282.29 L267.13 281.28 L267.45 280.99 M269.75 278.93 L270.49 278.28 L271.62 277.29 L272.20 276.79 M274.50 274.82 L275.04 274.36 L276.19 273.39 L276.95 272.76 M279.25 270.86 L279.67 270.52 L280.84 269.58 L281.70 268.88 M284.00 267.06 L284.37 266.78 L285.55 265.86 L286.45 265.16 M288.75 263.41 L289.13 263.12 L290.34 262.22 L291.20 261.59 M293.50 259.90 L293.97 259.56 L295.19 258.69 L295.95 258.15 M298.25 256.53 L298.88 256.09 M268.43 96.07 L269.64 95.17 L270.87 94.29 L270.88 94.27 M273.18 92.67 L273.34 92.56 L274.59 91.72 L275.63 91.04 M277.93 89.58 L278.40 89.29 L279.69 88.51 L280.38 88.10 M282.68 86.77 L283.60 86.25 L284.93 85.53 L285.13 85.42 M287.43 84.22 L287.60 84.14 L288.95 83.46 L289.88 83.00 M292.18 81.92 L293.03 81.53 L294.41 80.92 L294.63 80.82 M296.93 79.85 L297.18 79.74 L298.58 79.18 L299.38 78.87 M301.68 77.99 L302.81 77.58 L304.13 77.12 M306.43 76.35 L307.09 76.14 L308.53 75.69 L308.88 75.58 M311.18 74.91 L311.43 74.84 L312.88 74.44 L313.63 74.24 M315.93 73.66 L317.26 73.34 L318.38 73.09 M320.68 72.60 L321.68 72.40 L323.13 72.13 M268.43 304.73 L269.64 305.63 L270.87 306.51 L270.88 306.53 M273.18 308.13 L273.34 308.24 L274.59 309.08 L275.63 309.76 M277.93 311.22 L278.40 311.51 L279.69 312.29 L280.38 312.70 M282.68 314.03 L283.60 314.55 L284.93 315.27 L285.13 315.38 M287.43 316.58 L287.60 316.66 L288.95 317.34 L289.88 317.80 M292.18 318.88 L293.03 319.27 L294.41 319.88 L294.63 319.98 M296.93 320.95 L297.18 321.06 L298.58 321.62 L299.38 321.93 M301.68 322.81 L302.81 323.22 L304.13 323.68 M306.43 324.45 L307.09 324.66 L308.53 325.11 L308.88 325.22 M311.18 325.89 L311.43 325.96 L312.88 326.36 L313.63 326.56 M315.93 327.14 L317.26 327.46 L318.38 327.71 M320.68 328.20 L321.68 328.40 L323.13 328.67 M284.48 176.32 L285.98 176.70 L286.93 176.94 M289.23 177.51 L290.48 177.82 L291.68 178.12 M293.98 178.67 L294.99 178.91 L296.43 179.26 M298.73 179.80 L299.50 179.98 L301.00 180.33 L301.18 180.37 M303.48 180.90 L304.02 181.02 L305.52 181.36 L305.93 181.45 M308.23 181.96 L308.54 182.03 L310.05 182.36 L310.68 182.50 M312.98 183.00 L313.07 183.02 L314.58 183.34 L315.43 183.52 M317.73 184.00 L319.12 184.29 L320.18 184.51 M284.48 224.48 L285.98 224.10 L286.93 223.86 M289.23 223.29 L290.48 222.98 L291.68 222.68 M293.98 222.13 L294.99 221.89 L296.43 221.54 M298.73 221.00 L299.50 220.82 L301.00 220.47 L301.18 220.43 M303.48 219.90 L304.02 219.78 L305.52 219.44 L305.93 219.35 M308.23 218.84 L308.54 218.77 L310.05 218.44 L310.68 218.30 M312.98 217.80 L313.07 217.78 L314.58 217.46 L315.43 217.28 M317.73 216.80 L319.12 216.51 L320.18 216.29 M288.22 119.45 L289.32 118.42 L290.43 117.41 L290.67 117.19 M292.97 115.18 L293.84 114.45 L295.00 113.50 L295.42 113.16 M297.72 111.37 L298.57 110.73 L299.78 109.84 L300.17 109.56 M302.47 107.95 L303.49 107.27 L304.75 106.44 L304.92 106.33 M307.22 104.90 L307.30 104.85 L308.59 104.07 L309.67 103.45 M311.97 102.17 L312.53 101.86 L313.86 101.16 L314.42 100.87 M316.72 99.73 L317.91 99.17 L319.17 98.58 M321.47 97.57 L322.03 97.33 L323.42 96.76 L323.92 96.56 M326.22 95.67 L326.23 95.67 L327.64 95.15 L328.67 94.79 M288.22 281.35 L289.32 282.38 L290.43 283.39 L290.67 283.61 M292.97 285.62 L293.84 286.35 L295.00 287.30 L295.42 287.64 M297.72 289.43 L298.57 290.07 L299.78 290.96 L300.17 291.24 M302.47 292.85 L303.49 293.53 L304.75 294.36 L304.92 294.47 M307.22 295.90 L307.30 295.95 L308.59 296.73 L309.67 297.35 M311.97 298.63 L312.53 298.94 L313.86 299.64 L314.42 299.93 M316.72 301.07 L317.91 301.63 L319.17 302.22 M321.47 303.23 L322.03 303.47 L323.42 304.04 L323.92 304.24 M326.22 305.13 L326.23 305.13 L327.64 305.65 L328.67 306.01 M292.98 154.37 L294.35 155.10 L295.43 155.67 M297.73 156.86 L298.48 157.25 L299.86 157.95 L300.18 158.11 M302.48 159.27 L302.63 159.35 L304.02 160.04 L304.93 160.48 M307.23 161.60 L308.21 162.07 L309.61 162.74 L309.68 162.77 M311.98 163.85 L312.42 164.05 L313.83 164.70 L314.43 164.98 M316.73 166.02 L318.07 166.62 L319.18 167.11 M321.48 168.12 L322.33 168.49 L323.76 169.10 L323.93 169.17 M326.23 170.14 L326.62 170.30 M292.98 246.43 L294.35 245.70 L295.43 245.13 M297.73 243.94 L298.48 243.55 L299.86 242.85 L300.18 242.69 M302.48 241.53 L302.63 241.45 L304.02 240.76 L304.93 240.32 M307.23 239.20 L308.21 238.73 L309.61 238.06 L309.68 238.03 M311.98 236.95 L312.42 236.75 L313.83 236.10 L314.43 235.82 M316.73 234.78 L318.07 234.18 L319.18 233.69 M321.48 232.68 L322.33 232.31 L323.76 231.70 L323.93 231.63 M326.23 230.66 L326.62 230.50 M305.59 136.08 L306.59 134.96 L307.60 133.85 L307.81 133.63 M310.03 131.34 L310.75 130.62 L311.83 129.57 L312.48 128.96 M314.78 126.88 L315.17 126.54 L316.31 125.56 L317.23 124.80 M319.53 122.97 L319.83 122.74 L321.03 121.83 L321.98 121.14 M324.28 119.53 L324.71 119.23 L325.96 118.40 L326.73 117.91 M329.03 116.49 L329.80 116.03 L331.10 115.28 L331.48 115.07 M333.78 113.82 L335.08 113.15 L336.23 112.58 M305.59 264.72 L306.59 265.84 L307.60 266.95 L307.81 267.17 M310.03 269.46 L310.75 270.18 L311.83 271.23 L312.48 271.84 M314.78 273.92 L315.17 274.26 L316.31 275.24 L317.23 276.00 M319.53 277.83 L319.83 278.06 L321.03 278.97 L321.98 279.66 M324.28 281.27 L324.71 281.57 L325.96 282.40 L326.73 282.89 M329.03 284.31 L329.80 284.77 L331.10 285.52 L331.48 285.73 M333.78 286.98 L335.08 287.65 L336.23 288.22 M305.59 136.08 L306.75 137.09 L307.91 138.08 L308.04 138.20 M310.34 140.13 L311.42 141.02 L312.60 141.99 L312.79 142.14 M315.09 143.99 L316.18 144.84 L317.38 145.78 L317.54 145.90 M319.84 147.66 L321.03 148.55 L322.25 149.46 L322.29 149.49 M324.59 151.17 L324.72 151.26 L325.96 152.15 L327.04 152.91 M329.34 154.51 L329.72 154.77 L330.98 155.63 L331.79 156.18 M305.59 264.72 L306.75 263.71 L307.91 262.72 L308.04 262.60 M310.34 260.67 L311.42 259.78 L312.60 258.81 L312.79 258.66 M315.09 256.81 L316.18 255.96 L317.38 255.02 L317.54 254.90 M319.84 253.14 L321.03 252.25 L322.25 251.34 L322.29 251.31 M324.59 249.63 L324.72 249.54 L325.96 248.65 L327.04 247.89 M329.34 246.29 L329.72 246.03 L330.98 245.17 L331.79 244.62 M344.22 274.22 L342.94 273.41 L341.77 272.64 M339.47 271.04 L339.18 270.83 L337.95 269.93 L337.02 269.22 M334.72 267.38 L334.38 267.10 L333.22 266.11 L332.27 265.27 M329.97 263.15 L329.85 263.03 L328.77 261.97 L327.70 260.89 L327.55 260.72 M325.41 258.42 L324.61 257.53 L323.63 256.37 L323.30 255.97 M321.45 253.67 L320.78 252.81 L319.88 251.59 L319.62 251.22 M318.01 248.92 L317.29 247.83 L316.47 246.55 L316.42 246.47 M315.04 244.17 L314.90 243.95 L314.15 242.62 L313.66 241.72 M312.46 239.42 L312.04 238.58 L311.39 237.21 L311.28 236.97 M310.25 234.67 L310.15 234.43 L309.57 233.03 L309.25 232.22 M308.38 229.92 L307.97 228.76 L307.54 227.47 M306.82 225.17 L306.59 224.41 L306.18 222.94 L306.13 222.72 M305.55 220.42 L305.45 219.99 L305.12 218.51 L305.01 217.97 M304.56 215.67 L304.54 215.53 L304.29 214.03 L304.17 213.22 M303.85 210.92 L303.69 209.51 L303.59 208.47 M303.41 206.17 L303.33 204.96 L303.28 203.72 M303.22 201.42 L303.21 200.40 L303.22 198.97 M303.29 196.67 L303.33 195.84 L303.42 194.32 L303.43 194.22 M303.63 191.92 L303.69 191.29 L303.86 189.78 L303.90 189.47 M304.23 187.17 L304.29 186.77 L304.54 185.27 L304.64 184.72 M305.09 182.42 L305.12 182.29 L305.45 180.81 L305.65 179.97 M306.24 177.67 L306.59 176.39 L306.94 175.22 M307.67 172.92 L307.97 172.04 L308.47 170.61 L308.52 170.47 M309.41 168.17 L309.57 167.77 L310.15 166.37 L310.43 165.72 M311.47 163.42 L312.04 162.22 L312.66 160.97 M313.88 158.67 L314.15 158.18 L314.90 156.85 L315.27 156.22 M316.68 153.92 L317.29 152.97 L318.13 151.70 L318.29 151.47 M319.90 149.17 L320.78 147.99 L321.71 146.79 L321.76 146.72 M323.63 144.42 L324.61 143.27 L325.62 142.13 L325.77 141.97 M327.93 139.67 L328.77 138.83 L329.85 137.77 L330.37 137.27 M332.67 135.17 L333.22 134.69 L334.38 133.70 L335.12 133.09 M337.42 131.28 L337.95 130.87 L339.18 129.97 L339.87 129.47 M342.17 127.90 L342.94 127.39 L344.22 126.58 M286.25 47.72 L286.58 49.19 L286.82 50.17 M287.38 52.47 L287.67 53.61 L288.01 54.92 M288.64 57.22 L288.85 57.99 L289.27 59.45 L289.33 59.67 M290.02 61.97 L290.14 62.35 L290.59 63.80 L290.79 64.42 M291.54 66.72 L292.01 68.11 L292.38 69.17 M293.20 71.47 L293.53 72.40 L294.06 73.81 L294.10 73.92 M294.99 76.22 L295.15 76.64 L295.72 78.05 L295.97 78.67 M296.92 80.97 L297.47 82.24 L297.98 83.42 M299.01 85.72 L299.31 86.39 L299.95 87.77 L300.14 88.17 M301.24 90.47 L301.26 90.50 L301.93 91.86 L302.46 92.92 M303.64 95.22 L304.00 95.90 L304.71 97.24 L304.94 97.67 M306.20 99.97 L306.90 101.22 L307.59 102.42 M308.93 104.72 L309.19 105.15 L309.97 106.44 L310.41 107.17 M311.85 109.47 L312.38 110.30 L313.20 111.57 L313.43 111.92 M314.95 114.22 L315.72 115.35 L316.58 116.60 L316.63 116.67 M318.26 118.97 L318.34 119.07 L319.23 120.29 L320.05 121.42 M321.79 123.72 L321.95 123.93 L322.88 125.13 L323.70 126.17 M325.54 128.47 L325.72 128.68 L326.68 129.85 L327.58 130.92 M329.55 133.22 L329.62 133.31 L330.62 134.44 L331.63 135.57 L331.72 135.67 M333.82 137.97 L334.71 138.92 L335.75 140.02 L336.14 140.42 M338.39 142.72 L338.93 143.26 L340.01 144.33 L340.84 145.14 M286.25 353.08 L286.58 351.61 L286.82 350.63 M287.38 348.33 L287.67 347.19 L288.01 345.88 M288.64 343.58 L288.85 342.81 L289.27 341.35 L289.33 341.13 M290.02 338.83 L290.14 338.45 L290.59 337.00 L290.79 336.38 M291.54 334.08 L292.01 332.69 L292.38 331.63 M293.20 329.33 L293.53 328.40 L294.06 326.99 L294.10 326.88 M294.99 324.58 L295.15 324.16 L295.72 322.75 L295.97 322.13 M296.92 319.83 L297.47 318.56 L297.98 317.38 M299.01 315.08 L299.31 314.41 L299.95 313.03 L300.14 312.63 M301.24 310.33 L301.26 310.30 L301.93 308.94 L302.46 307.88 M303.64 305.58 L304.00 304.90 L304.71 303.56 L304.94 303.13 M306.20 300.83 L306.90 299.58 L307.59 298.38 M308.93 296.08 L309.19 295.65 L309.97 294.36 L310.41 293.63 M311.85 291.33 L312.38 290.50 L313.20 289.23 L313.43 288.88 M314.95 286.58 L315.72 285.45 L316.58 284.20 L316.63 284.13 M318.26 281.83 L318.34 281.73 L319.23 280.51 L320.05 279.38 M321.79 277.08 L321.95 276.87 L322.88 275.67 L323.70 274.63 M325.54 272.33 L325.72 272.12 L326.68 270.95 L327.58 269.88 M329.55 267.58 L329.62 267.49 L330.62 266.36 L331.63 265.23 L331.72 265.13 M333.82 262.83 L334.71 261.88 L335.75 260.78 L336.14 260.38 M338.39 258.08 L338.93 257.54 L340.01 256.47 L340.84 255.66 M332.64 104.09 L334.03 103.52 L335.09 103.11 M337.39 102.25 L338.26 101.94 L339.69 101.45 L339.84 101.40 M342.14 100.67 L342.56 100.54 L344.01 100.11 L344.59 99.95 M346.89 99.33 L346.91 99.32 L348.37 98.96 L349.34 98.73 M351.64 98.23 L352.79 98.00 L354.09 97.75 M356.39 97.36 L357.24 97.23 L358.73 97.01 L358.84 97.00 M361.14 96.72 L361.72 96.65 L363.22 96.50 L363.59 96.47 M365.89 96.30 L366.23 96.27 L367.73 96.19 L368.34 96.16 M370.64 96.09 L370.74 96.09 L372.25 96.07 L373.09 96.07 M375.39 96.10 L376.77 96.14 L377.84 96.19 M380.14 96.33 L381.28 96.41 L382.59 96.53 M384.89 96.78 L385.77 96.88 L387.27 97.08 L387.34 97.09 M389.64 97.44 L390.24 97.54 L391.73 97.80 L392.09 97.87 M394.39 98.33 L394.68 98.39 L396.15 98.72 L396.84 98.88 M399.14 99.46 L400.53 99.83 L401.59 100.13 M332.64 296.71 L334.03 297.28 L335.09 297.69 M337.39 298.55 L338.26 298.86 L339.69 299.35 L339.84 299.40 M342.14 300.13 L342.56 300.26 L344.01 300.69 L344.59 300.85 M346.89 301.47 L346.91 301.48 L348.37 301.84 L349.34 302.07 M351.64 302.57 L352.79 302.80 L354.09 303.05 M356.39 303.44 L357.24 303.57 L358.73 303.79 L358.84 303.80 M361.14 304.08 L361.72 304.15 L363.22 304.30 L363.59 304.33 M365.89 304.50 L366.23 304.53 L367.73 304.61 L368.34 304.64 M370.64 304.71 L370.74 304.71 L372.25 304.73 L373.09 304.73 M375.39 304.70 L376.77 304.66 L377.84 304.61 M380.14 304.47 L381.28 304.39 L382.59 304.27 M384.89 304.02 L385.77 303.92 L387.27 303.72 L387.34 303.71 M389.64 303.36 L390.24 303.26 L391.73 303.00 L392.09 302.93 M394.39 302.47 L394.68 302.41 L396.15 302.08 L396.84 301.92 M399.14 301.34 L400.53 300.97 L401.59 300.67 M329.81 163.58 L331.14 164.29 L332.26 164.87 M334.56 166.06 L335.18 166.38 L336.53 167.06 L337.01 167.30 M339.31 168.44 L340.60 169.07 L341.76 169.62 M344.06 170.72 L344.71 171.02 L346.08 171.66 L346.51 171.85 M348.81 172.90 L348.84 172.91 L350.22 173.53 L351.26 173.99 M353.56 174.99 L354.39 175.34 L355.78 175.93 L356.01 176.03 M358.31 176.98 L358.58 177.09 L359.98 177.66 L360.76 177.97 M363.06 178.88 L364.21 179.33 L365.51 179.83 M367.81 180.70 L368.45 180.94 L369.88 181.46 L370.26 181.60 M372.56 182.42 L372.73 182.48 L374.16 182.99 L375.01 183.28 M329.81 237.22 L331.14 236.51 L332.26 235.93 M334.56 234.74 L335.18 234.42 L336.53 233.74 L337.01 233.50 M339.31 232.36 L340.60 231.73 L341.76 231.18 M344.06 230.08 L344.71 229.78 L346.08 229.14 L346.51 228.95 M348.81 227.90 L348.84 227.89 L350.22 227.27 L351.26 226.81 M353.56 225.81 L354.39 225.46 L355.78 224.87 L356.01 224.77 M358.31 223.82 L358.58 223.71 L359.98 223.14 L360.76 222.83 M363.06 221.92 L364.21 221.47 L365.51 220.97 M367.81 220.10 L368.45 219.86 L369.88 219.34 L370.26 219.20 M372.56 218.38 L372.73 218.32 L374.16 217.81 L375.01 217.52 M400.76 261.47 L399.29 261.12 L398.31 260.87 M396.01 260.20 L394.94 259.87 L393.56 259.39 M391.26 258.52 L390.70 258.30 L389.31 257.71 L388.81 257.48 M386.51 256.39 L385.24 255.74 L384.06 255.10 M381.76 253.75 L381.32 253.48 L380.05 252.67 L379.31 252.17 M377.01 250.53 L376.36 250.04 L375.18 249.11 L374.56 248.60 M372.26 246.59 L371.76 246.14 L370.67 245.10 L369.81 244.23 M367.67 241.93 L367.56 241.82 L366.57 240.67 L365.62 239.51 L365.60 239.48 M363.85 237.18 L363.79 237.11 L362.92 235.87 L362.16 234.73 M360.72 232.43 L360.49 232.05 L359.75 230.74 L359.34 229.98 M358.16 227.68 L357.70 226.71 L357.08 225.33 L357.04 225.23 M356.10 222.93 L355.95 222.54 L355.43 221.12 L355.21 220.48 M354.48 218.18 L354.09 216.80 L353.81 215.73 M353.28 213.43 L353.06 212.39 L352.80 210.98 M352.46 208.68 L352.35 207.92 L352.19 206.42 L352.17 206.23 M352.00 203.93 L351.97 203.42 L351.92 201.91 L351.91 201.48 M351.91 199.18 L351.92 198.89 L351.97 197.38 L352.01 196.73 M352.19 194.43 L352.19 194.38 L352.35 192.88 L352.47 191.98 M352.83 189.68 L353.06 188.41 L353.30 187.23 M353.84 184.93 L354.09 184.00 L354.50 182.55 L354.52 182.48 M355.26 180.18 L355.43 179.68 L355.95 178.26 L356.15 177.73 M357.09 175.43 L357.70 174.09 L358.23 172.98 M359.41 170.68 L359.75 170.06 L360.49 168.75 L360.80 168.23 M362.25 165.93 L362.92 164.93 L363.79 163.69 L363.95 163.48 M365.71 161.18 L366.57 160.13 L367.56 158.98 L367.78 158.73 M369.94 156.43 L370.67 155.70 L371.76 154.66 L372.39 154.09 M374.69 152.09 L375.18 151.69 L376.36 150.76 L377.14 150.18 M379.44 148.54 L380.05 148.13 L381.32 147.32 L381.89 146.97 M384.19 145.63 L385.24 145.06 L386.58 144.37 L386.64 144.34 M388.94 143.26 L389.31 143.09 L390.70 142.50 L391.39 142.23 M393.69 141.36 L394.94 140.93 L396.14 140.56 M398.44 139.90 L399.29 139.68 L400.76 139.33 M380.79 55.94 L380.22 57.33 L379.81 58.39 M378.95 60.69 L378.64 61.56 L378.15 62.98 L378.10 63.14 M377.37 65.44 L377.24 65.85 L376.81 67.29 L376.65 67.89 M376.03 70.19 L376.03 70.20 L375.66 71.66 L375.43 72.64 M374.93 74.94 L374.70 76.07 L374.45 77.39 M374.06 79.69 L373.93 80.51 L373.72 82.00 L373.70 82.14 M373.42 84.44 L373.36 84.99 L373.21 86.49 L373.17 86.89 M373.00 89.19 L372.97 89.49 L372.89 90.99 L372.86 91.64 M372.79 93.94 L372.79 94.00 L372.77 95.50 L372.77 96.39 M372.80 98.69 L372.84 100.01 L372.89 101.14 M373.03 103.44 L373.11 104.52 L373.23 105.89 M373.48 108.19 L373.57 109.01 L373.77 110.50 L373.79 110.64 M374.14 112.94 L374.23 113.47 L374.49 114.95 L374.57 115.39 M375.03 117.69 L375.08 117.91 L375.40 119.37 L375.58 120.14 M376.16 122.44 L376.51 123.75 L376.83 124.89 M377.52 127.19 L377.80 128.08 L378.27 129.50 L378.32 129.64 M379.13 131.94 L379.28 132.34 L379.81 133.75 L380.06 134.39 M381.00 136.69 L381.53 137.92 L382.07 139.14 M383.15 141.44 L383.43 142.01 L384.10 143.36 L384.37 143.89 M385.60 146.19 L386.23 147.34 L386.98 148.64 M388.36 150.94 L388.54 151.22 L389.34 152.49 L389.93 153.39 M391.48 155.69 L391.86 156.23 L392.74 157.46 L393.24 158.14 M380.79 344.86 L380.22 343.47 L379.81 342.41 M378.95 340.11 L378.64 339.24 L378.15 337.82 L378.10 337.66 M377.37 335.36 L377.24 334.95 L376.81 333.51 L376.65 332.91 M376.03 330.61 L376.03 330.60 L375.66 329.14 L375.43 328.16 M374.93 325.86 L374.70 324.73 L374.45 323.41 M374.06 321.11 L373.93 320.29 L373.72 318.80 L373.70 318.66 M373.42 316.36 L373.36 315.81 L373.21 314.31 L373.17 313.91 M373.00 311.61 L372.97 311.31 L372.89 309.81 L372.86 309.16 M372.79 306.86 L372.79 306.80 L372.77 305.30 L372.77 304.41 M372.80 302.11 L372.84 300.79 L372.89 299.66 M373.03 297.36 L373.11 296.28 L373.23 294.91 M373.48 292.61 L373.57 291.79 L373.77 290.30 L373.79 290.16 M374.14 287.86 L374.23 287.33 L374.49 285.85 L374.57 285.41 M375.03 283.11 L375.08 282.89 L375.40 281.43 L375.58 280.66 M376.16 278.36 L376.51 277.05 L376.83 275.91 M377.52 273.61 L377.80 272.72 L378.27 271.30 L378.32 271.16 M379.13 268.86 L379.28 268.46 L379.81 267.05 L380.06 266.41 M381.00 264.11 L381.53 262.88 L382.07 261.66 M383.15 259.36 L383.43 258.79 L384.10 257.44 L384.37 256.91 M385.60 254.61 L386.23 253.46 L386.98 252.16 M388.36 249.86 L388.54 249.58 L389.34 248.31 L389.93 247.41 M391.48 245.11 L391.86 244.57 L392.74 243.34 L393.24 242.66 M398.85 122.15 L400.36 122.16 L401.30 122.19 M403.60 122.30 L404.88 122.38 L406.05 122.48 M408.35 122.73 L409.38 122.86 L410.80 123.07 M413.10 123.46 L413.84 123.60 L415.32 123.90 L415.55 123.95 M417.85 124.49 L418.26 124.60 L419.72 124.98 L420.30 125.15 M422.60 125.84 L422.61 125.84 L424.04 126.32 L425.05 126.67 M427.35 127.53 L428.28 127.90 L429.67 128.48 L429.80 128.53 M432.10 129.57 L432.42 129.72 L433.78 130.38 L434.55 130.77 M436.85 132.00 L437.77 132.52 L439.07 133.28 L439.30 133.42 M441.60 134.86 L441.63 134.88 L442.88 135.72 L444.05 136.53 M446.35 138.22 L446.55 138.37 L447.74 139.30 L448.80 140.17 M451.10 142.15 L451.19 142.23 L452.30 143.25 L453.39 144.29 L453.55 144.45 M398.85 278.65 L400.36 278.64 L401.30 278.61 M403.60 278.50 L404.88 278.42 L406.05 278.32 M408.35 278.07 L409.38 277.94 L410.80 277.73 M413.10 277.34 L413.84 277.20 L415.32 276.90 L415.55 276.85 M417.85 276.31 L418.26 276.20 L419.72 275.82 L420.30 275.65 M422.60 274.96 L422.61 274.96 L424.04 274.48 L425.05 274.13 M427.35 273.27 L428.28 272.90 L429.67 272.32 L429.80 272.27 M432.10 271.23 L432.42 271.08 L433.78 270.42 L434.55 270.03 M436.85 268.80 L437.77 268.28 L439.07 267.52 L439.30 267.38 M441.60 265.94 L441.63 265.92 L442.88 265.08 L444.05 264.27 M446.35 262.58 L446.55 262.43 L447.74 261.50 L448.80 260.63 M451.10 258.65 L451.19 258.57 L452.30 257.55 L453.39 256.51 L453.55 256.35 M383.20 169.10 L384.43 170.01 L385.65 170.90 M387.95 172.52 L388.17 172.68 L389.44 173.54 L390.40 174.19 M392.70 175.69 L393.28 176.06 L394.58 176.88 L395.15 177.23 M397.45 178.61 L398.52 179.24 L399.85 180.00 L399.90 180.03 M402.20 181.31 L402.53 181.49 L403.88 182.21 L404.65 182.62 M406.95 183.80 L407.97 184.30 L409.35 184.97 L409.40 185.00 M411.70 186.08 L412.12 186.27 L413.52 186.90 L414.15 187.18 M416.45 188.17 L417.74 188.71 L418.90 189.17 M421.20 190.07 L422.02 190.39 L423.46 190.92 L423.65 190.99 M425.95 191.80 L426.34 191.94 M383.20 231.70 L384.43 230.79 L385.65 229.90 M387.95 228.28 L388.17 228.12 L389.44 227.26 L390.40 226.61 M392.70 225.11 L393.28 224.74 L394.58 223.92 L395.15 223.57 M397.45 222.19 L398.52 221.56 L399.85 220.80 L399.90 220.77 M402.20 219.49 L402.53 219.31 L403.88 218.59 L404.65 218.18 M406.95 217.00 L407.97 216.50 L409.35 215.83 L409.40 215.80 M411.70 214.72 L412.12 214.53 L413.52 213.90 L414.15 213.62 M416.45 212.63 L417.74 212.09 L418.90 211.63 M421.20 210.73 L422.02 210.41 L423.46 209.88 L423.65 209.81 M425.95 209.00 L426.34 208.86 M404.87 152.25 L406.30 151.68 L407.32 151.30 M409.62 150.54 L410.68 150.22 L412.07 149.85 M414.37 149.32 L415.17 149.16 L416.68 148.89 L416.82 148.87 M419.12 148.56 L419.73 148.49 L421.26 148.36 L421.57 148.35 M423.87 148.25 L424.34 148.24 L425.88 148.24 L426.32 148.26 M428.62 148.37 L428.95 148.39 L430.48 148.53 L431.07 148.60 M433.37 148.92 L433.53 148.95 L435.04 149.22 L435.82 149.39 M438.12 149.93 L439.53 150.32 L440.57 150.64 M442.87 151.42 L443.89 151.80 L445.32 152.38 L445.32 152.38 M447.62 153.43 L448.11 153.67 L449.48 154.37 M404.87 248.55 L406.30 249.12 L407.32 249.50 M409.62 250.26 L410.68 250.58 L412.07 250.95 M414.37 251.48 L415.17 251.64 L416.68 251.91 L416.82 251.93 M419.12 252.24 L419.73 252.31 L421.26 252.44 L421.57 252.45 M423.87 252.55 L424.34 252.56 L425.88 252.56 L426.32 252.54 M428.62 252.43 L428.95 252.41 L430.48 252.27 L431.07 252.20 M433.37 251.88 L433.53 251.85 L435.04 251.58 L435.82 251.41 M438.12 250.87 L439.53 250.48 L440.57 250.16 M442.87 249.38 L443.89 249.00 L445.32 248.42 L445.32 248.42 M447.62 247.37 L448.11 247.13 L449.48 246.43 M404.87 152.25 L405.48 153.66 L405.94 154.70 M407.04 157.00 L407.47 157.84 L408.18 159.21 L408.31 159.45 M409.61 161.75 L409.70 161.90 L410.50 163.22 L411.11 164.20 M412.63 166.50 L413.04 167.09 L413.94 168.34 L414.39 168.95 M416.17 171.25 L416.78 172.00 L417.78 173.18 L418.23 173.70 M420.33 176.00 L420.90 176.60 L421.98 177.69 L422.73 178.43 M425.03 180.56 L425.36 180.86 L426.53 181.86 L427.48 182.66 M429.78 184.47 L430.15 184.75 M404.87 248.55 L405.48 247.14 L405.94 246.10 M407.04 243.80 L407.47 242.96 L408.18 241.59 L408.31 241.35 M409.61 239.05 L409.70 238.90 L410.50 237.58 L411.11 236.60 M412.63 234.30 L413.04 233.71 L413.94 232.46 L414.39 231.85 M416.17 229.55 L416.78 228.80 L417.78 227.62 L418.23 227.10 M420.33 224.80 L420.90 224.20 L421.98 223.11 L422.73 222.37 M425.03 220.24 L425.36 219.94 L426.53 218.94 L427.48 218.14 M429.78 216.33 L430.15 216.05 M446.56 238.57 L445.07 238.88 L444.11 239.03 M441.81 239.33 L440.54 239.44 L439.36 239.50 M437.06 239.51 L435.96 239.47 L434.61 239.38 M432.31 239.11 L431.42 238.97 L429.92 238.69 L429.86 238.67 M427.56 238.11 L426.97 237.95 L425.52 237.49 L425.11 237.34 M422.81 236.46 L422.67 236.41 L421.28 235.78 L420.36 235.33 M418.06 234.07 L417.26 233.59 L415.99 232.76 L415.61 232.50 M413.31 230.77 L412.36 229.98 L411.23 228.96 L410.86 228.60 M408.68 226.32 L408.08 225.64 L407.12 224.46 L406.68 223.87 M405.08 221.57 L404.53 220.70 L403.76 219.38 L403.62 219.12 M402.46 216.82 L402.39 216.66 L401.78 215.26 L401.44 214.37 M400.64 212.07 L400.30 210.94 L399.95 209.62 M399.47 207.32 L399.32 206.47 L399.12 204.96 L399.11 204.87 M398.92 202.57 L398.88 201.92 L398.85 200.40 L398.86 200.12 M398.94 197.82 L398.97 197.35 L399.12 195.84 L399.18 195.37 M399.55 193.07 L399.59 192.83 L399.91 191.34 L400.10 190.62 M400.76 188.32 L401.23 186.96 L401.65 185.87 M402.66 183.57 L403.05 182.77 L403.76 181.42 L403.94 181.12 M405.34 178.82 L405.34 178.82 L406.21 177.56 L407.10 176.37 M409.04 174.07 L409.09 174.01 L410.14 172.91 L411.23 171.84 L411.43 171.67 M413.73 169.70 L414.74 168.92 L415.99 168.04 L416.18 167.91 M418.48 166.48 L418.57 166.43 L419.91 165.70 L420.93 165.19 M423.23 164.17 L424.08 163.83 L425.52 163.31 L425.68 163.26 M427.98 162.58 L428.44 162.45 L429.92 162.11 L430.43 162.02 M432.73 161.63 L432.93 161.60 L434.44 161.43 L435.18 161.38 M437.48 161.28 L437.49 161.28 L439.01 161.29 L439.93 161.33 M442.23 161.51 L443.57 161.68 L444.68 161.86 M445.80 106.50 L444.60 107.43 L443.43 108.39 L443.35 108.46 M441.05 110.53 L440.08 111.48 L439.03 112.57 L438.67 112.96 M436.68 115.26 L436.07 116.02 L435.15 117.23 L434.80 117.71 M433.23 120.01 L432.60 121.00 L431.83 122.31 L431.75 122.46 M430.52 124.76 L430.40 124.99 L429.74 126.35 L429.36 127.21 M428.41 129.51 L428.02 130.57 L427.54 131.96 M426.85 134.26 L426.66 134.91 L426.30 136.38 L426.23 136.71 M425.76 139.01 L425.69 139.36 L425.46 140.86 L425.38 141.46 M425.13 143.76 L425.12 143.87 L425.01 145.38 L424.98 146.21 M424.94 148.51 L424.96 149.94 L425.01 150.96 M425.18 153.26 L425.31 154.47 L425.48 155.71 M425.86 158.01 L426.05 158.96 L426.38 160.44 L426.39 160.46 M427.00 162.76 L427.18 163.37 L427.64 164.82 L427.78 165.21 M428.63 167.51 L428.69 167.67 L429.27 169.07 L429.68 169.96 M430.80 172.26 L431.27 173.15 L432.02 174.48 L432.15 174.71 M433.59 177.01 L433.62 177.05 L434.47 178.31 L435.31 179.46 M445.80 294.30 L444.60 293.37 L443.43 292.41 L443.35 292.34 M441.05 290.27 L440.08 289.32 L439.03 288.23 L438.67 287.84 M436.68 285.54 L436.07 284.78 L435.15 283.57 L434.80 283.09 M433.23 280.79 L432.60 279.80 L431.83 278.49 L431.75 278.34 M430.52 276.04 L430.40 275.81 L429.74 274.45 L429.36 273.59 M428.41 271.29 L428.02 270.23 L427.54 268.84 M426.85 266.54 L426.66 265.89 L426.30 264.42 L426.23 264.09 M425.76 261.79 L425.69 261.44 L425.46 259.94 L425.38 259.34 M425.13 257.04 L425.12 256.93 L425.01 255.42 L424.98 254.59 M424.94 252.29 L424.96 250.86 L425.01 249.84 M425.18 247.54 L425.31 246.33 L425.48 245.09 M425.86 242.79 L426.05 241.84 L426.38 240.36 L426.39 240.34 M427.00 238.04 L427.18 237.43 L427.64 235.98 L427.78 235.59 M428.63 233.29 L428.69 233.13 L429.27 231.73 L429.68 230.84 M430.80 228.54 L431.27 227.65 L432.02 226.32 L432.15 226.09 M433.59 223.79 L433.62 223.75 L434.47 222.49 L435.31 221.34 M445.80 231.70 L444.26 231.66 L443.35 231.59 M441.05 231.33 L439.69 231.10 L438.60 230.85 M436.30 230.22 L435.26 229.87 L433.85 229.33 M431.55 228.26 L431.05 228.00 L429.71 227.25 L429.10 226.86 M426.80 225.26 L425.94 224.60 L424.78 223.59 L424.35 223.18 M422.17 220.91 L421.60 220.26 L420.66 219.05 L420.25 218.46 M418.77 216.16 L418.20 215.15 L417.51 213.78 L417.48 213.71 M416.51 211.41 L416.33 210.94 L415.85 209.49 L415.70 208.96 M415.14 206.66 L415.10 206.51 L414.84 204.99 L414.74 204.21 M414.54 201.91 L414.50 200.40 L414.52 199.46 M414.67 197.16 L414.84 195.81 L415.03 194.71 M415.54 192.41 L415.85 191.31 L416.29 189.96 M417.22 187.66 L417.51 187.02 L418.20 185.65 L418.44 185.21 M419.84 182.91 L420.66 181.75 L421.60 180.54 L421.67 180.46 M423.77 178.17 L424.78 177.21 L425.94 176.20 L426.22 175.99 M428.52 174.31 L429.71 173.55 L430.97 172.84 M433.27 171.73 L433.82 171.48 L435.26 170.93 L435.72 170.78 M438.02 170.09 L438.19 170.04 L439.69 169.70 L440.47 169.57 M442.77 169.25 L444.26 169.14 L445.22 169.11 M458.69 126.75 L457.36 127.49 L456.24 128.18 M453.94 129.75 L453.57 130.02 L452.37 130.95 L451.49 131.70 M449.19 133.86 L449.02 134.03 L447.98 135.14 L446.99 136.29 L446.97 136.31 M445.21 138.61 L445.14 138.71 L444.29 139.96 L443.61 141.06 M442.32 143.36 L442.03 143.92 L441.39 145.30 L441.17 145.81 M440.26 148.11 L440.25 148.12 L439.77 149.56 L439.48 150.56 M438.90 152.86 L438.66 153.97 L438.43 155.31 M438.15 157.61 L438.07 158.49 L438.00 160.01 L437.99 160.06 M438.00 162.36 L438.02 163.05 L438.11 164.56 L438.14 164.81 M438.42 167.11 L438.49 167.58 L438.76 169.07 L438.87 169.56 M439.44 171.86 L439.48 172.02 L439.93 173.48 L440.22 174.31 M458.69 274.05 L457.36 273.31 L456.24 272.62 M453.94 271.05 L453.57 270.78 L452.37 269.85 L451.49 269.10 M449.19 266.94 L449.02 266.77 L447.98 265.66 L446.99 264.51 L446.97 264.49 M445.21 262.19 L445.14 262.09 L444.29 260.84 L443.61 259.74 M442.32 257.44 L442.03 256.88 L441.39 255.50 L441.17 254.99 M440.26 252.69 L440.25 252.68 L439.77 251.24 L439.48 250.24 M438.90 247.94 L438.66 246.83 L438.43 245.49 M438.15 243.19 L438.07 242.31 L438.00 240.79 L437.99 240.74 M438.00 238.44 L438.02 237.75 L438.11 236.24 L438.14 235.99 M438.42 233.69 L438.49 233.22 L438.76 231.73 L438.87 231.24 M439.44 228.94 L439.48 228.78 L439.93 227.32 L440.22 226.49 M446.31 174.74 L447.89 174.51 L448.76 174.43 M451.06 174.32 L452.65 174.37 L453.51 174.45 M455.81 174.76 L457.37 175.10 L458.26 175.36 M460.56 176.13 L461.86 176.68 L463.01 177.25 M446.31 226.06 L447.89 226.29 L448.76 226.37 M451.06 226.48 L452.65 226.43 L453.51 226.35 M455.81 226.04 L457.37 225.70 L458.26 225.44 M460.56 224.67 L461.86 224.12 L463.01 223.55 M446.31 174.74 L446.62 176.24 L446.87 177.19 M447.58 179.49 L447.99 180.60 L448.56 181.94 M449.72 184.24 L449.98 184.72 L450.77 186.02 L451.22 186.69 M452.95 188.99 L453.52 189.68 M446.31 226.06 L446.62 224.56 L446.87 223.61 M447.58 221.31 L447.99 220.20 L448.56 218.86 M449.72 216.56 L449.98 216.08 L450.77 214.78 L451.22 214.11 M452.95 211.81 L453.52 211.12"/>
<circle cx="320.0" cy="200.5" r="156.5"/>
<path d="M163.5 200.5 H476.5"/>
</g>
<rect x="204.85" y="191.00" width="19.30" height="17.30" fill="#fff"/>
<text x="214.75" y="204.90" text-anchor="middle" fill="#1c1c1c">0.2</text>
<rect x="242.35" y="191.00" width="19.30" height="17.30" fill="#fff"/>
<text x="252.50" y="204.90" text-anchor="middle" fill="#1c1c1c">0.4</text>
<rect x="270.55" y="191.00" width="18.85" height="17.30" fill="#fff"/>
<text x="280.50" y="204.90" text-anchor="middle" fill="#1c1c1c">0.6</text>
<rect x="315.00" y="191.00" width="9.00" height="17.30" fill="#fff"/>
<text x="320.00" y="204.90" text-anchor="middle" fill="#1c1c1c">1</text>
<rect x="366.90" y="191.00" width="9.35" height="17.30" fill="#fff"/>
<text x="371.90" y="204.90" text-anchor="middle" fill="#1c1c1c">2</text>
<rect x="419.65" y="191.00" width="9.45" height="17.30" fill="#fff"/>
<text x="424.90" y="204.90" text-anchor="middle" fill="#1c1c1c">5</text>
<rect x="453.10" y="191.00" width="15.80" height="17.30" fill="#fff"/>
<text x="461.75" y="204.90" text-anchor="middle" fill="#1c1c1c">20</text>
<text x="163.00" y="204.70" text-anchor="end" fill="#1c1c1c">0.0</text>
<rect x="343.70" y="128.40" width="14.10" height="17.30" fill="#fff"/>
<text x="345.60" y="142.25" text-anchor="start" fill="#1c1c1c">1 i</text>
<rect x="390.20" y="112.75" width="14.70" height="17.30" fill="#fff"/>
<text x="392.10" y="126.25" text-anchor="start" fill="#1c1c1c">2 i</text>
<rect x="343.50" y="253.60" width="18.90" height="17.30" fill="#fff"/>
<text x="345.40" y="266.80" text-anchor="start" fill="#1c1c1c">-1 i</text>
<rect x="390.90" y="269.25" width="19.70" height="17.30" fill="#fff"/>
<text x="392.80" y="282.75" text-anchor="start" fill="#1c1c1c">-2 i</text>
<text x="175.75" y="137.00" text-anchor="end" fill="#1c1c1c">0.2 i</text>
<text x="207.50" y="89.25" text-anchor="end" fill="#1c1c1c">0.4 i</text>
<text x="247.50" y="59.25" text-anchor="end" fill="#1c1c1c">0.6 i</text>
<text x="320.45" y="40.60" text-anchor="middle" fill="#1c1c1c">1 i</text>
<text x="414.60" y="71.90" text-anchor="start" fill="#1c1c1c">2 i</text>
<text x="465.00" y="137.50" text-anchor="start" fill="#1c1c1c">5 i</text>
<text x="475.00" y="166.25" text-anchor="start" fill="#1c1c1c">10 i</text>
<text x="476.25" y="181.25" text-anchor="start" fill="#1c1c1c">20 i</text>
<text x="175.75" y="271.75" text-anchor="end" fill="#1c1c1c">-0.2 i</text>
<text x="207.00" y="319.50" text-anchor="end" fill="#1c1c1c">-0.4 i</text>
<text x="247.00" y="350.00" text-anchor="end" fill="#1c1c1c">-0.6 i</text>
<text x="320.20" y="368.50" text-anchor="middle" fill="#1c1c1c">-1 i</text>
<text x="414.80" y="337.70" text-anchor="start" fill="#1c1c1c">-2 i</text>
<text x="465.60" y="271.25" text-anchor="start" fill="#1c1c1c">-5 i</text>
<text x="473.70" y="242.20" text-anchor="start" fill="#1c1c1c">-10 i</text>
<text x="476.90" y="227.60" text-anchor="start" fill="#1c1c1c">-20 i</text>
<path d="M281.30 166.70 C281.46 166.65 281.13 166.82 282.25 166.40 C283.37 165.98 286.00 164.74 288.00 164.20 C290.00 163.66 292.17 163.35 294.25 163.15 C296.33 162.95 298.42 162.97 300.50 163.00 C302.58 163.03 304.67 163.12 306.75 163.30 C308.83 163.48 310.88 163.62 313.00 164.10 C315.12 164.57 317.24 165.43 319.50 166.15 C321.76 166.88 324.30 167.44 326.55 168.45 C328.80 169.46 330.86 170.72 333.00 172.20 C335.14 173.67 337.37 175.23 339.40 177.30 C341.43 179.37 343.61 182.33 345.20 184.60 C346.79 186.87 347.93 188.78 348.95 190.90 C349.97 193.02 350.81 195.76 351.30 197.30 C351.79 198.84 351.72 199.08 351.90 200.15 C352.08 201.22 352.22 202.39 352.40 203.70 C352.58 205.01 352.97 206.23 353.00 208.00 C353.03 209.77 352.85 212.21 352.60 214.30 C352.35 216.39 351.94 218.45 351.50 220.55 C351.06 222.65 350.68 224.80 349.95 226.90 C349.22 229.00 348.39 231.05 347.10 233.15 C345.81 235.25 344.02 237.38 342.20 239.50 C340.38 241.62 338.17 244.11 336.15 245.90 C334.13 247.69 332.12 249.09 330.10 250.25 C328.08 251.41 326.07 252.13 324.05 252.85 C322.03 253.57 320.01 254.11 318.00 254.55 C315.99 254.99 314.00 255.29 312.00 255.50 C310.00 255.71 307.73 255.82 306.00 255.80 C304.27 255.78 303.32 255.63 301.65 255.40 C299.98 255.17 298.01 254.97 296.00 254.40 C293.99 253.83 291.10 252.65 289.60 252.00 C288.10 251.35 288.93 251.75 287.00 250.50 C285.07 249.25 280.60 246.75 278.00 244.50 C275.40 242.25 273.22 239.50 271.40 237.00 C269.58 234.50 268.08 231.33 267.10 229.50 C266.12 227.67 266.00 227.46 265.50 226.00 C265.00 224.54 264.50 222.62 264.10 220.75 C263.70 218.88 263.33 217.00 263.10 214.75 C262.88 212.50 262.72 209.62 262.75 207.25 C262.78 204.88 263.03 202.38 263.30 200.50 C263.57 198.62 263.74 197.75 264.40 196.00 C265.06 194.25 265.94 192.25 267.25 190.00 C268.56 187.75 270.79 184.50 272.25 182.50 C273.71 180.50 274.62 179.42 276.00 178.00 C277.38 176.58 279.00 175.21 280.50 174.00 C282.00 172.79 283.42 171.82 285.00 170.75 C286.58 169.68 288.33 168.46 290.00 167.60 C291.67 166.74 293.25 166.13 295.00 165.60 C296.75 165.07 298.75 164.66 300.50 164.40 C302.25 164.14 303.42 163.95 305.50 164.05 C307.58 164.15 310.67 164.53 313.00 165.00 C315.33 165.47 317.34 166.07 319.50 166.85 C321.66 167.62 323.87 168.51 325.95 169.65 C328.03 170.79 329.98 172.21 332.00 173.70 C334.02 175.19 336.12 176.65 338.10 178.60 C340.08 180.55 342.36 183.23 343.90 185.40 C345.44 187.57 346.38 189.55 347.35 191.60 C348.32 193.65 349.21 196.22 349.70 197.70 C350.19 199.17 350.05 199.43 350.30 200.45 C350.55 201.47 350.87 202.54 351.20 203.80 C351.53 205.06 352.15 206.27 352.30 208.00 C352.45 209.73 352.32 212.12 352.10 214.20 C351.88 216.27 351.44 218.38 351.00 220.45 C350.56 222.52 350.17 224.53 349.45 226.60 C348.73 228.67 347.97 230.77 346.70 232.85 C345.43 234.93 343.61 237.01 341.80 239.10 C339.99 241.19 337.83 243.62 335.85 245.40 C333.87 247.18 331.88 248.59 329.90 249.75 C327.92 250.91 325.93 251.63 323.95 252.35 C321.97 253.07 319.99 253.61 318.00 254.05 C316.01 254.49 314.00 254.81 312.00 255.00 C310.00 255.19 307.73 255.27 306.00 255.20 C304.27 255.13 302.38 254.70 301.65 254.60" fill="none" stroke="#ff0000" stroke-width="1.8" stroke-linejoin="round" stroke-linecap="round"/>
<ellipse cx="278.25" cy="167.50" rx="3.1" ry="3.7" fill="#fff" stroke="#ff0000" stroke-width="1.8"/>
<circle cx="301.65" cy="254.50" r="4.1" fill="#ff0000"/>
<ellipse cx="16" cy="50.75" rx="3.15" ry="3.4" fill="#fff" stroke="#ff0000" stroke-width="1.8"/>
<ellipse cx="16" cy="68.5" rx="4.05" ry="4.4" fill="#ff0000"/>
<text x="25.75" y="55.50" text-anchor="start" fill="#ff0000" textLength="118.00" lengthAdjust="spacing">2.3&#160;&#160;(27.1, 12.5) Ohm</text>
<text x="25.75" y="73.25" text-anchor="start" fill="#ff0000" textLength="121.75" lengthAdjust="spacing">2.6&#160;&#160;(31.6, -25.7) Ohm</text>
<text x="12.50" y="90.75" text-anchor="start" fill="#1c1c1c" textLength="88.25" lengthAdjust="spacing">Frequency / GHz</text>
<path d="M497.5 51 H525" stroke="#ff0000" stroke-width="2"/>
<text x="530.75" y="55.50" text-anchor="start" fill="#ff0000" textLength="78.50" lengthAdjust="spacing">S1,1 (50 Ohm)</text>
<text x="235.10" y="18.60" text-anchor="start" fill="#1c1c1c" textLength="169.00" lengthAdjust="spacing">S-Parameters [Impedance View]</text>
</svg>
</body></html>
